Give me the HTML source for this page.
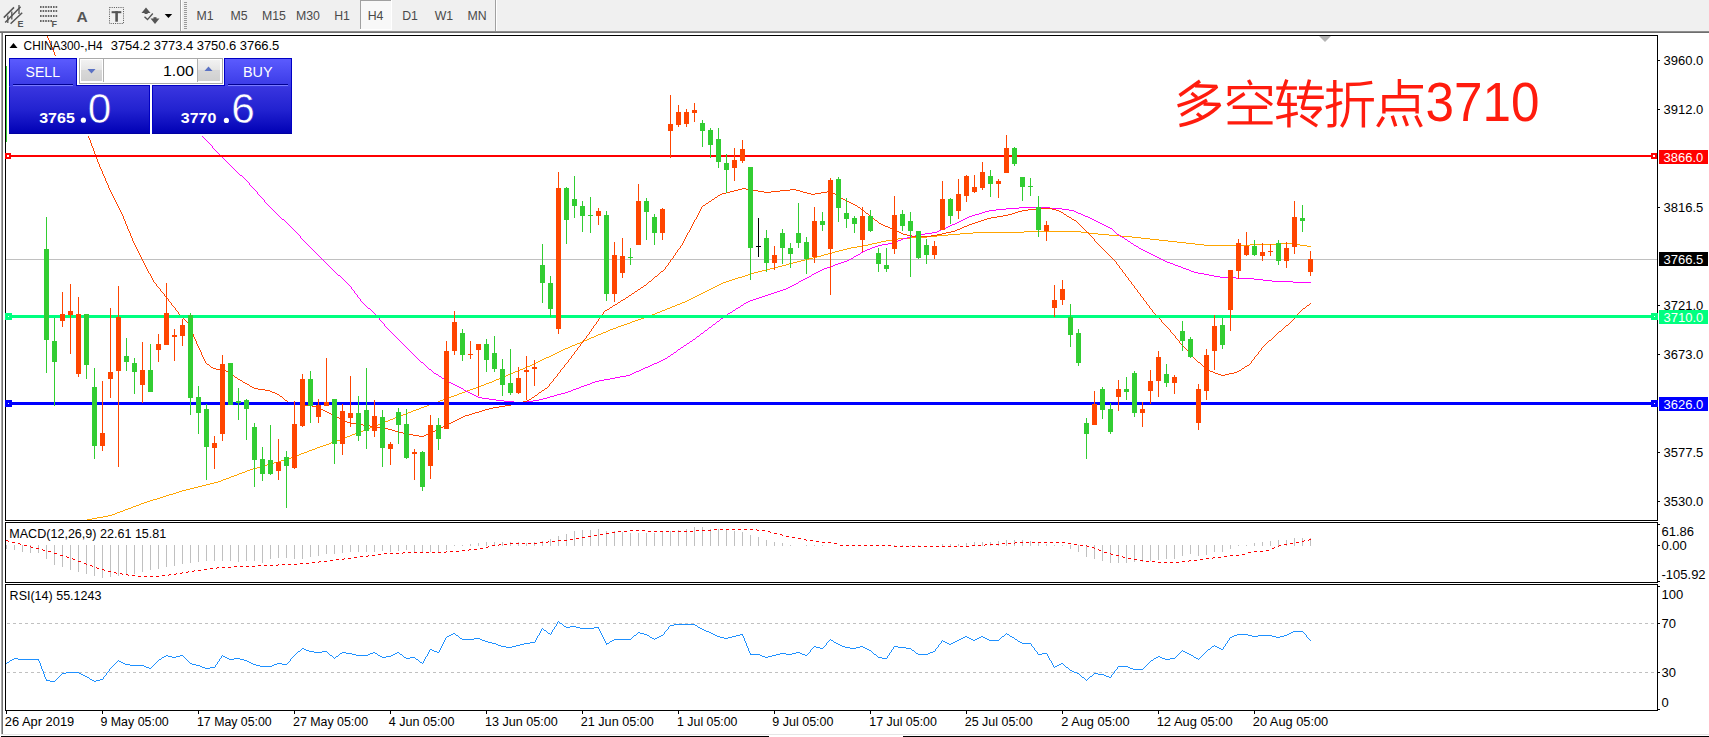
<!DOCTYPE html>
<html><head><meta charset="utf-8"><title>CHINA300 H4</title>
<style>
html,body{margin:0;padding:0;background:#fff;width:1709px;height:737px;overflow:hidden;}
svg{display:block;font-family:"Liberation Sans",sans-serif;}
</style></head><body>
<svg width="1709" height="737" viewBox="0 0 1709 737">
<defs>
<linearGradient id="gHdr" x1="0" y1="0" x2="0" y2="1"><stop offset="0" stop-color="#5c5cff"/><stop offset="1" stop-color="#3a3ae6"/></linearGradient>
<linearGradient id="gPrice" x1="0" y1="0" x2="0" y2="1"><stop offset="0" stop-color="#3a36e0"/><stop offset="0.5" stop-color="#2222d0"/><stop offset="1" stop-color="#0000b4"/></linearGradient>
<linearGradient id="gPriceU" gradientUnits="userSpaceOnUse" x1="0" y1="86" x2="0" y2="134"><stop offset="0" stop-color="#3a36e0"/><stop offset="0.5" stop-color="#2222d0"/><stop offset="1" stop-color="#0000b4"/></linearGradient>
<linearGradient id="gBtn" x1="0" y1="0" x2="0" y2="1"><stop offset="0" stop-color="#f2f2f2"/><stop offset="0.45" stop-color="#e6e6e6"/><stop offset="0.5" stop-color="#d8d8d8"/><stop offset="1" stop-color="#d0d0d0"/></linearGradient>
<linearGradient id="gTb" x1="0" y1="0" x2="0" y2="1"><stop offset="0" stop-color="#8a8a8a"/><stop offset="1" stop-color="#6a6a6a"/></linearGradient>
</defs>

<rect x="0" y="0" width="1709" height="737" fill="#ffffff"/>
<g shape-rendering="crispEdges">
<rect x="0" y="0" width="1709" height="31" fill="#f0f0f0"/>
<rect x="0" y="31" width="1709" height="1" fill="#8c8c8c"/>
<rect x="0" y="32" width="1709" height="1" fill="#6e6e6e"/>
<rect x="1" y="33" width="1" height="701" fill="#a8a8a8"/>
<rect x="2" y="33" width="1" height="701" fill="#747474"/>
<rect x="1" y="734" width="1709" height="1" fill="#e6e6e6"/>
<rect x="1" y="736" width="1709" height="1" fill="#000000"/>
<rect x="769" y="736" width="134" height="1" fill="#ffffff"/>
<rect x="180" y="0" width="1" height="31" fill="#a0a0a0"/><rect x="181" y="0" width="1" height="31" fill="#ffffff"/>
<rect x="184" y="2" width="3" height="1" fill="#9a9a9a"/>
<rect x="184" y="4" width="3" height="1" fill="#9a9a9a"/>
<rect x="184" y="6" width="3" height="1" fill="#9a9a9a"/>
<rect x="184" y="8" width="3" height="1" fill="#9a9a9a"/>
<rect x="184" y="10" width="3" height="1" fill="#9a9a9a"/>
<rect x="184" y="12" width="3" height="1" fill="#9a9a9a"/>
<rect x="184" y="14" width="3" height="1" fill="#9a9a9a"/>
<rect x="184" y="16" width="3" height="1" fill="#9a9a9a"/>
<rect x="184" y="18" width="3" height="1" fill="#9a9a9a"/>
<rect x="184" y="20" width="3" height="1" fill="#9a9a9a"/>
<rect x="184" y="22" width="3" height="1" fill="#9a9a9a"/>
<rect x="184" y="24" width="3" height="1" fill="#9a9a9a"/>
<rect x="184" y="26" width="3" height="1" fill="#9a9a9a"/>
<rect x="184" y="28" width="3" height="1" fill="#9a9a9a"/>
<rect x="495" y="0" width="1" height="31" fill="#a0a0a0"/><rect x="496" y="0" width="1" height="31" fill="#ffffff"/>
<rect x="360" y="0" width="32" height="30" fill="#f8f8f8"/>
<rect x="360" y="0" width="32" height="1" fill="#a0a0a0"/><rect x="360" y="0" width="1" height="29" fill="#a0a0a0"/>
<rect x="391" y="0" width="1" height="30" fill="#ffffff"/><rect x="360" y="29" width="32" height="1" fill="#ffffff"/>
</g>
<g fill="none" stroke="#555555" stroke-width="1.5">
<path d="M3.8 17.6 L14 7.4 M5.2 22.6 L20.6 6.8 M10.6 23.8 L22.2 12.8"/>
<path d="M7.8 15.5 L7.8 23 M11.8 11.5 L11.8 19.5 M19 5 L19 14" stroke-width="1.3"/>
</g>
<text x="17.6" y="26.8" font-size="9" font-weight="bold" fill="#555555">E</text>
<rect x="40.0" y="6" width="1.6" height="2" fill="#666"/>
<rect x="42.6" y="6" width="1.6" height="2" fill="#666"/>
<rect x="45.2" y="6" width="1.6" height="2" fill="#666"/>
<rect x="47.8" y="6" width="1.6" height="2" fill="#666"/>
<rect x="50.4" y="6" width="1.6" height="2" fill="#666"/>
<rect x="53.0" y="6" width="1.6" height="2" fill="#666"/>
<rect x="55.6" y="6" width="1.6" height="2" fill="#666"/>
<rect x="40.0" y="10" width="1.6" height="2" fill="#666"/>
<rect x="42.6" y="10" width="1.6" height="2" fill="#666"/>
<rect x="45.2" y="10" width="1.6" height="2" fill="#666"/>
<rect x="47.8" y="10" width="1.6" height="2" fill="#666"/>
<rect x="50.4" y="10" width="1.6" height="2" fill="#666"/>
<rect x="53.0" y="10" width="1.6" height="2" fill="#666"/>
<rect x="55.6" y="10" width="1.6" height="2" fill="#666"/>
<rect x="40.0" y="15" width="1.6" height="2" fill="#666"/>
<rect x="42.6" y="15" width="1.6" height="2" fill="#666"/>
<rect x="45.2" y="15" width="1.6" height="2" fill="#666"/>
<rect x="47.8" y="15" width="1.6" height="2" fill="#666"/>
<rect x="50.4" y="15" width="1.6" height="2" fill="#666"/>
<rect x="53.0" y="15" width="1.6" height="2" fill="#666"/>
<rect x="55.6" y="15" width="1.6" height="2" fill="#666"/>
<rect x="40.0" y="20" width="1.6" height="2" fill="#666"/>
<rect x="42.6" y="20" width="1.6" height="2" fill="#666"/>
<rect x="45.2" y="20" width="1.6" height="2" fill="#666"/>
<rect x="47.8" y="20" width="1.6" height="2" fill="#666"/>
<rect x="50.4" y="20" width="1.6" height="2" fill="#666"/>
<text x="51.5" y="26.8" font-size="9" font-weight="bold" fill="#555555">F</text>
<text x="76.6" y="21.8" font-size="15.5" font-weight="bold" fill="#555555">A</text>
<rect x="109.5" y="7.5" width="14" height="16" fill="none" stroke="#555" stroke-width="1" stroke-dasharray="1 1.2"/>
<rect x="111.6" y="11.2" width="9.7" height="2" fill="#555555"/><rect x="115.3" y="11.2" width="2.6" height="10.5" fill="#555555"/>
<path d="M141.5 13 L146 7.5 L150.5 13 Z" fill="#555555"/><rect x="144.6" y="11" width="3" height="3" fill="#555555"/>
<path d="M144.5 16.8 L147.5 19.6 L152.8 13.5" fill="none" stroke="#555555" stroke-width="1.4"/>
<path d="M150.5 18.5 L159.5 18.5 L155 24 Z" fill="#555555"/><rect x="153.5" y="17.2" width="3" height="2" fill="#555555"/>
<path d="M164.7 13.9 L172.2 13.9 L168.45 18 Z" fill="#000"/>
<text x="205" y="20.3" font-size="12.3" fill="#4a4a4a" text-anchor="middle">M1</text>
<text x="239" y="20.3" font-size="12.3" fill="#4a4a4a" text-anchor="middle">M5</text>
<text x="274" y="20.3" font-size="12.3" fill="#4a4a4a" text-anchor="middle">M15</text>
<text x="308" y="20.3" font-size="12.3" fill="#4a4a4a" text-anchor="middle">M30</text>
<text x="342" y="20.3" font-size="12.3" fill="#4a4a4a" text-anchor="middle">H1</text>
<text x="375.5" y="20.3" font-size="12.3" fill="#4a4a4a" text-anchor="middle">H4</text>
<text x="410" y="20.3" font-size="12.3" fill="#4a4a4a" text-anchor="middle">D1</text>
<text x="444" y="20.3" font-size="12.3" fill="#4a4a4a" text-anchor="middle">W1</text>
<text x="477" y="20.3" font-size="12.3" fill="#4a4a4a" text-anchor="middle">MN</text>
<g shape-rendering="crispEdges" fill="#000">
<rect x="5" y="35" width="1653" height="1"/>
<rect x="5" y="520" width="1653" height="1"/>
<rect x="5" y="35" width="1" height="486"/>
<rect x="1657" y="35" width="1" height="486"/>
<rect x="5" y="522" width="1653" height="1"/>
<rect x="5" y="582" width="1653" height="1"/>
<rect x="5" y="522" width="1" height="61"/>
<rect x="1657" y="522" width="1" height="61"/>
<rect x="5" y="584" width="1653" height="1"/>
<rect x="5" y="710" width="1653" height="1"/>
<rect x="5" y="584" width="1" height="127"/>
<rect x="1657" y="584" width="1" height="127"/>
</g>
<rect x="6" y="259" width="1651" height="1" fill="#c0c0c0" shape-rendering="crispEdges"/>
<svg x="6" y="36" width="1651" height="484" viewBox="6 36 1651 484" overflow="hidden">
<path d="M1024 231h57v1h-57zM973 232h51v1h-51zM1081 232h8v1h-8zM960 233h13v1h-13zM1089 233h9v1h-9zM948 234h12v1h-12zM1098 234h11v1h-11zM937 235h11v1h-11zM1109 235h12v1h-12zM927 236h10v1h-10zM1121 236h11v1h-11zM911 237h16v1h-16zM1132 237h9v1h-9zM898 238h13v1h-13zM1141 238h9v1h-9zM892 239h6v1h-6zM1150 239h9v1h-9zM886 240h6v1h-6zM1159 240h9v1h-9zM881 241h5v1h-5zM1168 241h9v1h-9zM877 242h4v1h-4zM1177 242h9v1h-9zM872 243h5v1h-5zM1186 243h9v1h-9zM1277 243h17v1h-17zM868 244h4v1h-4zM1195 244h9v1h-9zM1250 244h27v1h-27zM1294 244h6v1h-6zM863 245h5v1h-5zM1204 245h46v1h-46zM1300 245h7v1h-7zM857 246h6v1h-6zM1307 246h4v1h-4zM851 247h6v1h-6zM847 248h4v1h-4zM843 249h4v1h-4zM839 250h4v1h-4zM835 251h4v1h-4zM832 252h3v1h-3zM828 253h4v1h-4zM824 254h4v1h-4zM821 255h3v1h-3zM817 256h4v1h-4zM813 257h4v1h-4zM809 258h4v1h-4zM805 259h4v1h-4zM801 260h4v1h-4zM797 261h4v1h-4zM793 262h4v1h-4zM789 263h4v1h-4zM786 264h3v1h-3zM782 265h4v1h-4zM778 266h4v1h-4zM774 267h4v1h-4zM770 268h4v1h-4zM766 269h4v1h-4zM762 270h4v1h-4zM758 271h4v1h-4zM754 272h4v1h-4zM751 273h3v1h-3zM748 274h3v1h-3zM745 275h3v1h-3zM742 276h3v1h-3zM738 277h4v1h-4zM735 278h3v1h-3zM732 279h3v1h-3zM729 280h3v1h-3zM726 281h3v1h-3zM723 282h3v1h-3zM721 283h2v1h-2zM719 284h2v1h-2zM717 285h2v1h-2zM715 286h2v1h-2zM713 287h2v1h-2zM711 288h2v1h-2zM709 289h2v1h-2zM707 290h2v1h-2zM705 291h2v1h-2zM703 292h2v1h-2zM701 293h2v1h-2zM699 294h2v1h-2zM697 295h2v1h-2zM695 296h2v1h-2zM693 297h2v1h-2zM691 298h2v1h-2zM689 299h2v1h-2zM687 300h2v1h-2zM685 301h2v1h-2zM682 302h3v1h-3zM680 303h2v1h-2zM677 304h3v1h-3zM675 305h2v1h-2zM672 306h3v1h-3zM670 307h2v1h-2zM667 308h3v1h-3zM665 309h2v1h-2zM662 310h3v1h-3zM660 311h2v1h-2zM657 312h3v1h-3zM655 313h2v1h-2zM652 314h3v1h-3zM649 315h3v1h-3zM646 316h3v1h-3zM644 317h2v1h-2zM641 318h3v1h-3zM638 319h3v1h-3zM635 320h3v1h-3zM632 321h3v1h-3zM630 322h2v1h-2zM627 323h3v1h-3zM624 324h3v1h-3zM621 325h3v1h-3zM618 326h3v1h-3zM616 327h2v1h-2zM613 328h3v1h-3zM610 329h3v1h-3zM608 330h2v1h-2zM606 331h2v1h-2zM603 332h3v1h-3zM601 333h2v1h-2zM598 334h3v1h-3zM596 335h2v1h-2zM594 336h2v1h-2zM591 337h3v1h-3zM589 338h2v1h-2zM587 339h2v1h-2zM584 340h3v1h-3zM582 341h2v1h-2zM580 342h2v1h-2zM577 343h3v1h-3zM575 344h2v1h-2zM572 345h3v1h-3zM570 346h2v1h-2zM568 347h2v1h-2zM565 348h3v1h-3zM563 349h2v1h-2zM561 350h2v1h-2zM559 351h2v1h-2zM557 352h2v1h-2zM555 353h2v1h-2zM553 354h2v1h-2zM551 355h2v1h-2zM549 356h2v1h-2zM546 357h3v1h-3zM544 358h2v1h-2zM542 359h2v1h-2zM540 360h2v1h-2zM538 361h2v1h-2zM536 362h2v1h-2zM534 363h2v1h-2zM532 364h2v1h-2zM530 365h2v1h-2zM527 366h3v1h-3zM525 367h2v1h-2zM523 368h2v1h-2zM520 369h3v1h-3zM518 370h2v1h-2zM515 371h3v1h-3zM513 372h2v1h-2zM511 373h2v1h-2zM508 374h3v1h-3zM506 375h2v1h-2zM504 376h2v1h-2zM501 377h3v1h-3zM499 378h2v1h-2zM496 379h3v1h-3zM494 380h2v1h-2zM492 381h2v1h-2zM489 382h3v1h-3zM486 383h3v1h-3zM484 384h2v1h-2zM481 385h3v1h-3zM478 386h3v1h-3zM476 387h2v1h-2zM473 388h3v1h-3zM470 389h3v1h-3zM467 390h3v1h-3zM465 391h2v1h-2zM462 392h3v1h-3zM459 393h3v1h-3zM457 394h2v1h-2zM454 395h3v1h-3zM451 396h3v1h-3zM448 397h3v1h-3zM446 398h2v1h-2zM443 399h3v1h-3zM440 400h3v1h-3zM438 401h2v1h-2zM435 402h3v1h-3zM432 403h3v1h-3zM429 404h3v1h-3zM427 405h2v1h-2zM424 406h3v1h-3zM421 407h3v1h-3zM419 408h2v1h-2zM416 409h3v1h-3zM413 410h3v1h-3zM411 411h2v1h-2zM408 412h3v1h-3zM406 413h2v1h-2zM403 414h3v1h-3zM401 415h2v1h-2zM398 416h3v1h-3zM395 417h3v1h-3zM393 418h2v1h-2zM390 419h3v1h-3zM388 420h2v1h-2zM385 421h3v1h-3zM383 422h2v1h-2zM380 423h3v1h-3zM378 424h2v1h-2zM375 425h3v1h-3zM373 426h2v1h-2zM370 427h3v1h-3zM368 428h2v1h-2zM365 429h3v1h-3zM363 430h2v1h-2zM360 431h3v1h-3zM357 432h3v1h-3zM355 433h2v1h-2zM352 434h3v1h-3zM350 435h2v1h-2zM347 436h3v1h-3zM345 437h2v1h-2zM342 438h3v1h-3zM340 439h2v1h-2zM337 440h3v1h-3zM334 441h3v1h-3zM331 442h3v1h-3zM329 443h2v1h-2zM326 444h3v1h-3zM323 445h3v1h-3zM320 446h3v1h-3zM317 447h3v1h-3zM315 448h2v1h-2zM312 449h3v1h-3zM309 450h3v1h-3zM307 451h2v1h-2zM304 452h3v1h-3zM301 453h3v1h-3zM299 454h2v1h-2zM296 455h3v1h-3zM293 456h3v1h-3zM291 457h2v1h-2zM288 458h3v1h-3zM285 459h3v1h-3zM281 460h4v1h-4zM278 461h3v1h-3zM274 462h4v1h-4zM271 463h3v1h-3zM267 464h4v1h-4zM264 465h3v1h-3zM260 466h4v1h-4zM257 467h3v1h-3zM253 468h4v1h-4zM250 469h3v1h-3zM247 470h3v1h-3zM245 471h2v1h-2zM242 472h3v1h-3zM239 473h3v1h-3zM237 474h2v1h-2zM234 475h3v1h-3zM231 476h3v1h-3zM229 477h2v1h-2zM226 478h3v1h-3zM223 479h3v1h-3zM221 480h2v1h-2zM218 481h3v1h-3zM214 482h4v1h-4zM210 483h4v1h-4zM206 484h4v1h-4zM202 485h4v1h-4zM198 486h4v1h-4zM194 487h4v1h-4zM190 488h4v1h-4zM186 489h4v1h-4zM182 490h4v1h-4zM179 491h3v1h-3zM176 492h3v1h-3zM173 493h3v1h-3zM169 494h4v1h-4zM166 495h3v1h-3zM163 496h3v1h-3zM160 497h3v1h-3zM157 498h3v1h-3zM153 499h4v1h-4zM150 500h3v1h-3zM147 501h3v1h-3zM144 502h3v1h-3zM141 503h3v1h-3zM139 504h2v1h-2zM136 505h3v1h-3zM133 506h3v1h-3zM131 507h2v1h-2zM128 508h3v1h-3zM125 509h3v1h-3zM123 510h2v1h-2zM120 511h3v1h-3zM117 512h3v1h-3zM115 513h2v1h-2zM112 514h3v1h-3zM108 515h4v1h-4zM103 516h5v1h-5zM97 517h6v1h-6zM92 518h5v1h-5zM87 519h5v1h-5zM84 520h3v1h-3z" fill="#ffa500" shape-rendering="crispEdges"/>
<path d="M182 117h1v1h-1zM183 118h1v1h-1zM184 119h1v1h-1zM185 120h1v1h-1zM186 121h1v1h-1zM187 122h1v1h-1zM188 123h1v1h-1zM189 124h1v1h-1zM190 125h1v1h-1zM191 126h1v1h-1zM192 127h2v1h-2zM194 128h1v1h-1zM195 129h1v1h-1zM196 130h1v1h-1zM197 131h1v1h-1zM198 132h1v1h-1zM199 133h1v1h-1zM200 134h1v1h-1zM201 135h1v1h-1zM202 136h1v1h-1zM203 137h1v1h-1zM204 138h1v1h-1zM205 139h1v1h-1zM206 140h1v1h-1zM207 141h1v1h-1zM208 142h1v1h-1zM209 143h1v1h-1zM210 144h1v1h-1zM211 145h1v1h-1zM212 146h1v1h-1zM212 147h1v1h-1zM213 148h1v1h-1zM214 149h1v1h-1zM215 150h1v1h-1zM216 151h1v1h-1zM217 152h1v1h-1zM218 153h1v1h-1zM219 154h1v1h-1zM220 155h1v1h-1zM221 156h1v1h-1zM222 157h1v1h-1zM223 158h1v1h-1zM224 159h1v1h-1zM225 160h1v1h-1zM226 161h1v1h-1zM227 162h1v1h-1zM228 163h1v1h-1zM229 164h1v1h-1zM230 165h1v1h-1zM231 166h1v1h-1zM232 167h1v1h-1zM233 168h1v1h-1zM234 169h1v1h-1zM235 170h1v1h-1zM236 171h1v1h-1zM237 172h1v1h-1zM238 173h1v1h-1zM239 174h1v1h-1zM240 175h2v1h-2zM242 176h1v1h-1zM243 177h1v1h-1zM244 178h1v1h-1zM245 179h1v1h-1zM246 180h1v1h-1zM247 181h1v1h-1zM248 182h1v1h-1zM249 183h1v1h-1zM249 184h1v1h-1zM250 185h1v1h-1zM251 186h1v1h-1zM252 187h1v1h-1zM253 188h1v1h-1zM254 189h1v1h-1zM255 190h1v1h-1zM256 191h1v1h-1zM257 192h1v1h-1zM257 193h1v1h-1zM258 194h1v1h-1zM259 195h1v1h-1zM260 196h1v1h-1zM261 197h1v1h-1zM262 198h1v1h-1zM263 199h1v1h-1zM264 200h1v1h-1zM264 201h1v1h-1zM265 202h1v1h-1zM266 203h1v1h-1zM267 204h1v1h-1zM268 205h1v1h-1zM269 206h1v1h-1zM270 207h1v1h-1zM1019 207h31v1h-31zM271 208h1v1h-1zM1006 208h13v1h-13zM1050 208h12v1h-12zM272 209h1v1h-1zM996 209h10v1h-10zM1062 209h7v1h-7zM273 210h1v1h-1zM989 210h7v1h-7zM1069 210h5v1h-5zM274 211h1v1h-1zM985 211h4v1h-4zM1074 211h2v1h-2zM275 212h1v1h-1zM982 212h3v1h-3zM1076 212h2v1h-2zM276 213h1v1h-1zM979 213h3v1h-3zM1078 213h3v1h-3zM277 214h1v1h-1zM975 214h4v1h-4zM1081 214h2v1h-2zM278 215h1v1h-1zM972 215h3v1h-3zM1083 215h2v1h-2zM279 216h1v1h-1zM969 216h3v1h-3zM1085 216h3v1h-3zM280 217h1v1h-1zM967 217h2v1h-2zM1088 217h2v1h-2zM281 218h1v1h-1zM965 218h2v1h-2zM1090 218h2v1h-2zM282 219h2v1h-2zM963 219h2v1h-2zM1092 219h2v1h-2zM284 220h1v1h-1zM961 220h2v1h-2zM1094 220h2v1h-2zM285 221h1v1h-1zM959 221h2v1h-2zM1096 221h2v1h-2zM286 222h1v1h-1zM957 222h2v1h-2zM1098 222h2v1h-2zM287 223h1v1h-1zM955 223h2v1h-2zM1100 223h2v1h-2zM288 224h1v1h-1zM952 224h3v1h-3zM1102 224h2v1h-2zM289 225h1v1h-1zM950 225h2v1h-2zM1104 225h2v1h-2zM290 226h1v1h-1zM948 226h2v1h-2zM1106 226h2v1h-2zM291 227h1v1h-1zM946 227h2v1h-2zM1108 227h2v1h-2zM292 228h1v1h-1zM943 228h3v1h-3zM1110 228h2v1h-2zM293 229h1v1h-1zM941 229h2v1h-2zM1112 229h1v1h-1zM294 230h1v1h-1zM939 230h2v1h-2zM1113 230h1v1h-1zM295 231h1v1h-1zM937 231h2v1h-2zM1114 231h1v1h-1zM296 232h1v1h-1zM932 232h5v1h-5zM1115 232h1v1h-1zM297 233h1v1h-1zM925 233h7v1h-7zM1116 233h1v1h-1zM298 234h1v1h-1zM919 234h6v1h-6zM1117 234h2v1h-2zM299 235h1v1h-1zM915 235h4v1h-4zM1119 235h1v1h-1zM300 236h1v1h-1zM911 236h4v1h-4zM1120 236h2v1h-2zM300 237h1v1h-1zM907 237h4v1h-4zM1122 237h2v1h-2zM301 238h1v1h-1zM903 238h4v1h-4zM1124 238h1v1h-1zM302 239h1v1h-1zM901 239h2v1h-2zM1125 239h2v1h-2zM303 240h1v1h-1zM898 240h3v1h-3zM1127 240h1v1h-1zM304 241h1v1h-1zM895 241h3v1h-3zM1128 241h2v1h-2zM305 242h1v1h-1zM893 242h2v1h-2zM1130 242h1v1h-1zM306 243h1v1h-1zM888 243h5v1h-5zM1131 243h2v1h-2zM307 244h1v1h-1zM882 244h6v1h-6zM1133 244h1v1h-1zM308 245h1v1h-1zM878 245h4v1h-4zM1134 245h2v1h-2zM309 246h1v1h-1zM875 246h3v1h-3zM1136 246h2v1h-2zM310 247h1v1h-1zM872 247h3v1h-3zM1138 247h1v1h-1zM311 248h1v1h-1zM870 248h2v1h-2zM1139 248h2v1h-2zM312 249h1v1h-1zM867 249h3v1h-3zM1141 249h2v1h-2zM313 250h1v1h-1zM865 250h2v1h-2zM1143 250h2v1h-2zM314 251h1v1h-1zM863 251h2v1h-2zM1145 251h2v1h-2zM315 252h1v1h-1zM861 252h2v1h-2zM1147 252h2v1h-2zM316 253h1v1h-1zM860 253h1v1h-1zM1149 253h2v1h-2zM317 254h1v1h-1zM858 254h2v1h-2zM1151 254h2v1h-2zM318 255h1v1h-1zM856 255h2v1h-2zM1153 255h2v1h-2zM319 256h1v1h-1zM854 256h2v1h-2zM1155 256h2v1h-2zM320 257h1v1h-1zM853 257h1v1h-1zM1157 257h2v1h-2zM321 258h1v1h-1zM851 258h2v1h-2zM1159 258h2v1h-2zM322 259h1v1h-1zM849 259h2v1h-2zM1161 259h2v1h-2zM323 260h1v1h-1zM847 260h2v1h-2zM1163 260h2v1h-2zM324 261h1v1h-1zM844 261h3v1h-3zM1165 261h2v1h-2zM325 262h1v1h-1zM841 262h3v1h-3zM1167 262h3v1h-3zM326 263h1v1h-1zM838 263h3v1h-3zM1170 263h3v1h-3zM327 264h1v1h-1zM835 264h3v1h-3zM1173 264h2v1h-2zM328 265h1v1h-1zM833 265h2v1h-2zM1175 265h3v1h-3zM329 266h1v1h-1zM830 266h3v1h-3zM1178 266h3v1h-3zM330 267h1v1h-1zM827 267h3v1h-3zM1181 267h2v1h-2zM331 268h1v1h-1zM824 268h3v1h-3zM1183 268h3v1h-3zM332 269h1v1h-1zM822 269h2v1h-2zM1186 269h3v1h-3zM333 270h1v1h-1zM820 270h2v1h-2zM1189 270h2v1h-2zM334 271h1v1h-1zM818 271h2v1h-2zM1191 271h3v1h-3zM335 272h1v1h-1zM816 272h2v1h-2zM1194 272h4v1h-4zM336 273h1v1h-1zM814 273h2v1h-2zM1198 273h6v1h-6zM337 274h1v1h-1zM812 274h2v1h-2zM1204 274h5v1h-5zM338 275h2v1h-2zM811 275h1v1h-1zM1209 275h5v1h-5zM340 276h1v1h-1zM809 276h2v1h-2zM1214 276h6v1h-6zM341 277h1v1h-1zM807 277h2v1h-2zM1220 277h16v1h-16zM342 278h1v1h-1zM805 278h2v1h-2zM1236 278h18v1h-18zM343 279h1v1h-1zM803 279h2v1h-2zM1254 279h9v1h-9zM344 280h1v1h-1zM801 280h2v1h-2zM1263 280h9v1h-9zM345 281h1v1h-1zM799 281h2v1h-2zM1272 281h21v1h-21zM346 282h1v1h-1zM798 282h1v1h-1zM1293 282h18v1h-18zM347 283h1v1h-1zM796 283h2v1h-2zM348 284h1v1h-1zM794 284h2v1h-2zM349 285h1v1h-1zM792 285h2v1h-2zM350 286h1v1h-1zM790 286h2v1h-2zM351 287h1v1h-1zM788 287h2v1h-2zM351 288h1v1h-1zM786 288h2v1h-2zM352 289h1v1h-1zM783 289h3v1h-3zM353 290h1v1h-1zM780 290h3v1h-3zM354 291h1v1h-1zM777 291h3v1h-3zM354 292h1v1h-1zM774 292h3v1h-3zM355 293h1v1h-1zM771 293h3v1h-3zM356 294h1v1h-1zM768 294h3v1h-3zM357 295h1v1h-1zM765 295h3v1h-3zM357 296h1v1h-1zM762 296h3v1h-3zM358 297h1v1h-1zM759 297h3v1h-3zM359 298h1v1h-1zM756 298h3v1h-3zM360 299h1v1h-1zM753 299h3v1h-3zM360 300h1v1h-1zM750 300h3v1h-3zM361 301h1v1h-1zM748 301h2v1h-2zM362 302h1v1h-1zM746 302h2v1h-2zM363 303h1v1h-1zM744 303h2v1h-2zM364 304h1v1h-1zM743 304h1v1h-1zM365 305h1v1h-1zM741 305h2v1h-2zM366 306h1v1h-1zM740 306h1v1h-1zM367 307h1v1h-1zM738 307h2v1h-2zM368 308h2v1h-2zM736 308h2v1h-2zM370 309h1v1h-1zM735 309h1v1h-1zM371 310h1v1h-1zM733 310h2v1h-2zM372 311h1v1h-1zM732 311h1v1h-1zM373 312h1v1h-1zM730 312h2v1h-2zM374 313h1v1h-1zM728 313h2v1h-2zM375 314h1v1h-1zM727 314h1v1h-1zM376 315h1v1h-1zM725 315h2v1h-2zM377 316h1v1h-1zM724 316h1v1h-1zM378 317h1v1h-1zM723 317h1v1h-1zM379 318h1v1h-1zM721 318h2v1h-2zM379 319h1v1h-1zM720 319h1v1h-1zM380 320h1v1h-1zM719 320h1v1h-1zM381 321h1v1h-1zM717 321h2v1h-2zM382 322h1v1h-1zM716 322h1v1h-1zM383 323h1v1h-1zM715 323h1v1h-1zM384 324h1v1h-1zM713 324h2v1h-2zM384 325h1v1h-1zM712 325h1v1h-1zM385 326h1v1h-1zM711 326h1v1h-1zM386 327h1v1h-1zM709 327h2v1h-2zM387 328h1v1h-1zM708 328h1v1h-1zM388 329h1v1h-1zM707 329h1v1h-1zM389 330h1v1h-1zM705 330h2v1h-2zM390 331h1v1h-1zM704 331h1v1h-1zM391 332h1v1h-1zM703 332h1v1h-1zM392 333h1v1h-1zM701 333h2v1h-2zM393 334h1v1h-1zM700 334h1v1h-1zM394 335h1v1h-1zM699 335h1v1h-1zM395 336h1v1h-1zM697 336h2v1h-2zM396 337h1v1h-1zM696 337h1v1h-1zM397 338h1v1h-1zM695 338h1v1h-1zM398 339h1v1h-1zM693 339h2v1h-2zM399 340h1v1h-1zM692 340h1v1h-1zM400 341h1v1h-1zM690 341h2v1h-2zM401 342h1v1h-1zM689 342h1v1h-1zM402 343h1v1h-1zM687 343h2v1h-2zM403 344h1v1h-1zM686 344h1v1h-1zM404 345h1v1h-1zM684 345h2v1h-2zM405 346h1v1h-1zM683 346h1v1h-1zM406 347h1v1h-1zM681 347h2v1h-2zM407 348h1v1h-1zM680 348h1v1h-1zM408 349h1v1h-1zM678 349h2v1h-2zM409 350h1v1h-1zM677 350h1v1h-1zM410 351h1v1h-1zM676 351h1v1h-1zM411 352h1v1h-1zM674 352h2v1h-2zM412 353h1v1h-1zM673 353h1v1h-1zM413 354h1v1h-1zM671 354h2v1h-2zM414 355h1v1h-1zM670 355h1v1h-1zM415 356h1v1h-1zM668 356h2v1h-2zM416 357h1v1h-1zM667 357h1v1h-1zM417 358h1v1h-1zM665 358h2v1h-2zM418 359h1v1h-1zM663 359h2v1h-2zM419 360h1v1h-1zM661 360h2v1h-2zM420 361h1v1h-1zM659 361h2v1h-2zM421 362h2v1h-2zM657 362h2v1h-2zM423 363h1v1h-1zM654 363h3v1h-3zM424 364h1v1h-1zM652 364h2v1h-2zM425 365h1v1h-1zM650 365h2v1h-2zM426 366h1v1h-1zM648 366h2v1h-2zM427 367h1v1h-1zM645 367h3v1h-3zM428 368h1v1h-1zM643 368h2v1h-2zM429 369h2v1h-2zM641 369h2v1h-2zM431 370h1v1h-1zM639 370h2v1h-2zM432 371h1v1h-1zM636 371h3v1h-3zM433 372h1v1h-1zM634 372h2v1h-2zM434 373h2v1h-2zM632 373h2v1h-2zM436 374h2v1h-2zM630 374h2v1h-2zM438 375h1v1h-1zM626 375h4v1h-4zM439 376h2v1h-2zM620 376h6v1h-6zM441 377h1v1h-1zM615 377h5v1h-5zM442 378h2v1h-2zM610 378h5v1h-5zM444 379h2v1h-2zM604 379h6v1h-6zM446 380h1v1h-1zM599 380h5v1h-5zM447 381h2v1h-2zM595 381h4v1h-4zM449 382h2v1h-2zM592 382h3v1h-3zM451 383h2v1h-2zM590 383h2v1h-2zM453 384h2v1h-2zM587 384h3v1h-3zM455 385h2v1h-2zM584 385h3v1h-3zM457 386h2v1h-2zM581 386h3v1h-3zM459 387h2v1h-2zM579 387h2v1h-2zM461 388h2v1h-2zM576 388h3v1h-3zM463 389h1v1h-1zM573 389h3v1h-3zM464 390h2v1h-2zM571 390h2v1h-2zM466 391h2v1h-2zM568 391h3v1h-3zM468 392h2v1h-2zM565 392h3v1h-3zM470 393h2v1h-2zM561 393h4v1h-4zM472 394h2v1h-2zM557 394h4v1h-4zM474 395h2v1h-2zM554 395h3v1h-3zM476 396h2v1h-2zM550 396h4v1h-4zM478 397h4v1h-4zM547 397h3v1h-3zM482 398h7v1h-7zM543 398h4v1h-4zM489 399h7v1h-7zM539 399h4v1h-4zM496 400h8v1h-8zM533 400h6v1h-6zM504 401h10v1h-10zM523 401h10v1h-10zM514 402h9v1h-9z" fill="#ff00ff" shape-rendering="crispEdges"/>
<path d="M47 36h1v1h-1zM47 37h1v1h-1zM48 38h1v1h-1zM48 39h1v1h-1zM49 40h1v1h-1zM49 41h1v1h-1zM49 42h1v1h-1zM50 43h1v1h-1zM50 44h1v1h-1zM51 45h1v1h-1zM51 46h1v1h-1zM52 47h1v1h-1zM52 48h1v1h-1zM52 49h1v1h-1zM53 50h1v1h-1zM53 51h1v1h-1zM54 52h1v1h-1zM54 53h1v1h-1zM54 54h1v1h-1zM55 55h1v1h-1zM55 56h1v1h-1zM56 57h1v1h-1zM56 58h1v1h-1zM56 59h1v1h-1zM57 60h1v1h-1zM57 61h1v1h-1zM58 62h1v1h-1zM58 63h1v1h-1zM58 64h1v1h-1zM59 65h1v1h-1zM59 66h1v1h-1zM60 67h1v1h-1zM60 68h1v1h-1zM61 69h1v1h-1zM61 70h1v1h-1zM61 71h1v1h-1zM62 72h1v1h-1zM62 73h1v1h-1zM63 74h1v1h-1zM63 75h1v1h-1zM63 76h1v1h-1zM64 77h1v1h-1zM64 78h1v1h-1zM65 79h1v1h-1zM65 80h1v1h-1zM65 81h1v1h-1zM66 82h1v1h-1zM66 83h1v1h-1zM67 84h1v1h-1zM67 85h1v1h-1zM68 86h1v1h-1zM68 87h1v1h-1zM68 88h1v1h-1zM69 89h1v1h-1zM69 90h1v1h-1zM70 91h1v1h-1zM70 92h1v1h-1zM70 93h1v1h-1zM71 94h1v1h-1zM71 95h1v1h-1zM72 96h1v1h-1zM72 97h1v1h-1zM72 98h1v1h-1zM73 99h1v1h-1zM73 100h1v1h-1zM74 101h1v1h-1zM74 102h1v1h-1zM74 103h1v1h-1zM75 104h1v1h-1zM75 105h1v1h-1zM76 106h1v1h-1zM76 107h1v1h-1zM77 108h1v1h-1zM77 109h1v1h-1zM77 110h1v1h-1zM78 111h1v1h-1zM78 112h1v1h-1zM79 113h1v1h-1zM79 114h1v1h-1zM79 115h1v1h-1zM80 116h1v1h-1zM80 117h1v1h-1zM81 118h1v1h-1zM81 119h1v1h-1zM81 120h1v1h-1zM82 121h1v1h-1zM82 122h1v1h-1zM83 123h1v1h-1zM83 124h1v1h-1zM83 125h1v1h-1zM84 126h1v1h-1zM84 127h1v1h-1zM85 128h1v1h-1zM85 129h1v1h-1zM86 130h1v1h-1zM86 131h1v1h-1zM86 132h1v1h-1zM87 133h1v1h-1zM87 134h1v1h-1zM88 135h1v1h-1zM88 136h1v1h-1zM88 137h1v1h-1zM89 138h1v1h-1zM89 139h1v1h-1zM90 140h1v1h-1zM90 141h1v1h-1zM90 142h1v1h-1zM91 143h1v1h-1zM91 144h1v1h-1zM91 145h1v1h-1zM92 146h1v1h-1zM92 147h1v1h-1zM93 148h1v1h-1zM93 149h1v1h-1zM93 150h1v1h-1zM94 151h1v1h-1zM94 152h1v1h-1zM94 153h1v1h-1zM95 154h1v1h-1zM95 155h1v1h-1zM96 156h1v1h-1zM96 157h1v1h-1zM96 158h1v1h-1zM97 159h1v1h-1zM97 160h1v1h-1zM97 161h1v1h-1zM98 162h1v1h-1zM98 163h1v1h-1zM99 164h1v1h-1zM99 165h1v1h-1zM99 166h1v1h-1zM100 167h1v1h-1zM100 168h1v1h-1zM101 169h1v1h-1zM101 170h1v1h-1zM102 171h1v1h-1zM102 172h1v1h-1zM102 173h1v1h-1zM103 174h1v1h-1zM103 175h1v1h-1zM104 176h1v1h-1zM104 177h1v1h-1zM105 178h1v1h-1zM105 179h1v1h-1zM105 180h1v1h-1zM106 181h1v1h-1zM106 182h1v1h-1zM107 183h1v1h-1zM107 184h1v1h-1zM108 185h1v1h-1zM108 186h1v1h-1zM108 187h1v1h-1zM109 188h1v1h-1zM742 188h4v1h-4zM109 189h1v1h-1zM738 189h4v1h-4zM746 189h6v1h-6zM790 189h6v1h-6zM110 190h1v1h-1zM734 190h4v1h-4zM752 190h6v1h-6zM780 190h10v1h-10zM796 190h4v1h-4zM110 191h1v1h-1zM730 191h4v1h-4zM758 191h6v1h-6zM771 191h9v1h-9zM800 191h3v1h-3zM827 191h4v1h-4zM111 192h1v1h-1zM726 192h4v1h-4zM764 192h7v1h-7zM803 192h4v1h-4zM821 192h6v1h-6zM831 192h2v1h-2zM111 193h1v1h-1zM722 193h4v1h-4zM807 193h4v1h-4zM815 193h6v1h-6zM833 193h2v1h-2zM112 194h1v1h-1zM720 194h2v1h-2zM811 194h4v1h-4zM835 194h1v1h-1zM112 195h1v1h-1zM718 195h2v1h-2zM836 195h2v1h-2zM113 196h1v1h-1zM717 196h1v1h-1zM838 196h2v1h-2zM113 197h1v1h-1zM715 197h2v1h-2zM840 197h1v1h-1zM114 198h1v1h-1zM714 198h1v1h-1zM841 198h2v1h-2zM114 199h1v1h-1zM712 199h2v1h-2zM843 199h2v1h-2zM115 200h1v1h-1zM711 200h1v1h-1zM845 200h2v1h-2zM115 201h1v1h-1zM709 201h2v1h-2zM847 201h2v1h-2zM116 202h1v1h-1zM708 202h1v1h-1zM849 202h2v1h-2zM116 203h1v1h-1zM706 203h2v1h-2zM851 203h2v1h-2zM117 204h1v1h-1zM705 204h1v1h-1zM853 204h2v1h-2zM117 205h1v1h-1zM703 205h2v1h-2zM855 205h2v1h-2zM118 206h1v1h-1zM702 206h1v1h-1zM857 206h1v1h-1zM118 207h1v1h-1zM701 207h1v1h-1zM858 207h2v1h-2zM119 208h1v1h-1zM701 208h1v1h-1zM860 208h1v1h-1zM1037 208h15v1h-15zM119 209h1v1h-1zM700 209h1v1h-1zM861 209h1v1h-1zM1028 209h9v1h-9zM1052 209h4v1h-4zM120 210h1v1h-1zM700 210h1v1h-1zM862 210h2v1h-2zM1022 210h6v1h-6zM1056 210h3v1h-3zM120 211h1v1h-1zM699 211h1v1h-1zM864 211h1v1h-1zM1018 211h4v1h-4zM1059 211h2v1h-2zM121 212h1v1h-1zM699 212h1v1h-1zM865 212h1v1h-1zM1015 212h3v1h-3zM1061 212h2v1h-2zM121 213h1v1h-1zM698 213h1v1h-1zM866 213h2v1h-2zM1012 213h3v1h-3zM1063 213h1v1h-1zM122 214h1v1h-1zM698 214h1v1h-1zM868 214h1v1h-1zM1008 214h4v1h-4zM1064 214h2v1h-2zM122 215h1v1h-1zM697 215h1v1h-1zM869 215h1v1h-1zM1003 215h5v1h-5zM1066 215h1v1h-1zM123 216h1v1h-1zM697 216h1v1h-1zM870 216h1v1h-1zM997 216h6v1h-6zM1067 216h2v1h-2zM123 217h1v1h-1zM696 217h1v1h-1zM871 217h2v1h-2zM991 217h6v1h-6zM1069 217h2v1h-2zM123 218h1v1h-1zM696 218h1v1h-1zM873 218h1v1h-1zM987 218h4v1h-4zM1071 218h1v1h-1zM124 219h1v1h-1zM695 219h1v1h-1zM874 219h1v1h-1zM984 219h3v1h-3zM1072 219h2v1h-2zM124 220h1v1h-1zM694 220h1v1h-1zM875 220h2v1h-2zM981 220h3v1h-3zM1074 220h2v1h-2zM125 221h1v1h-1zM694 221h1v1h-1zM877 221h1v1h-1zM978 221h3v1h-3zM1076 221h1v1h-1zM125 222h1v1h-1zM693 222h1v1h-1zM878 222h1v1h-1zM975 222h3v1h-3zM1077 222h1v1h-1zM125 223h1v1h-1zM693 223h1v1h-1zM879 223h2v1h-2zM972 223h3v1h-3zM1078 223h1v1h-1zM126 224h1v1h-1zM692 224h1v1h-1zM881 224h2v1h-2zM969 224h3v1h-3zM1079 224h1v1h-1zM126 225h1v1h-1zM692 225h1v1h-1zM883 225h2v1h-2zM967 225h2v1h-2zM1080 225h1v1h-1zM127 226h1v1h-1zM691 226h1v1h-1zM885 226h3v1h-3zM964 226h3v1h-3zM1081 226h1v1h-1zM127 227h1v1h-1zM691 227h1v1h-1zM888 227h2v1h-2zM962 227h2v1h-2zM1082 227h1v1h-1zM127 228h1v1h-1zM690 228h1v1h-1zM890 228h3v1h-3zM960 228h2v1h-2zM1083 228h1v1h-1zM128 229h1v1h-1zM690 229h1v1h-1zM893 229h2v1h-2zM957 229h3v1h-3zM1084 229h1v1h-1zM128 230h1v1h-1zM689 230h1v1h-1zM895 230h2v1h-2zM955 230h2v1h-2zM1085 230h1v1h-1zM129 231h1v1h-1zM689 231h1v1h-1zM897 231h2v1h-2zM951 231h4v1h-4zM1086 231h1v1h-1zM129 232h1v1h-1zM688 232h1v1h-1zM899 232h2v1h-2zM946 232h5v1h-5zM1087 232h1v1h-1zM130 233h1v1h-1zM687 233h1v1h-1zM901 233h2v1h-2zM942 233h4v1h-4zM1088 233h1v1h-1zM130 234h1v1h-1zM687 234h1v1h-1zM903 234h4v1h-4zM937 234h5v1h-5zM1089 234h1v1h-1zM130 235h1v1h-1zM686 235h1v1h-1zM907 235h5v1h-5zM931 235h6v1h-6zM1090 235h1v1h-1zM131 236h1v1h-1zM686 236h1v1h-1zM912 236h19v1h-19zM1091 236h1v1h-1zM131 237h1v1h-1zM685 237h1v1h-1zM1092 237h1v1h-1zM132 238h1v1h-1zM685 238h1v1h-1zM1093 238h1v1h-1zM132 239h1v1h-1zM684 239h1v1h-1zM1094 239h1v1h-1zM132 240h1v1h-1zM684 240h1v1h-1zM1094 240h1v1h-1zM133 241h1v1h-1zM683 241h1v1h-1zM1095 241h1v1h-1zM133 242h1v1h-1zM683 242h1v1h-1zM1096 242h1v1h-1zM134 243h1v1h-1zM682 243h1v1h-1zM1097 243h1v1h-1zM134 244h1v1h-1zM682 244h1v1h-1zM1098 244h1v1h-1zM135 245h1v1h-1zM681 245h1v1h-1zM1099 245h1v1h-1zM135 246h1v1h-1zM680 246h1v1h-1zM1100 246h1v1h-1zM136 247h1v1h-1zM680 247h1v1h-1zM1101 247h1v1h-1zM136 248h1v1h-1zM679 248h1v1h-1zM1102 248h1v1h-1zM137 249h1v1h-1zM678 249h1v1h-1zM1103 249h1v1h-1zM137 250h1v1h-1zM677 250h1v1h-1zM1104 250h1v1h-1zM138 251h1v1h-1zM677 251h1v1h-1zM1105 251h1v1h-1zM138 252h1v1h-1zM676 252h1v1h-1zM1106 252h1v1h-1zM139 253h1v1h-1zM675 253h1v1h-1zM1107 253h1v1h-1zM139 254h1v1h-1zM675 254h1v1h-1zM1108 254h1v1h-1zM140 255h1v1h-1zM674 255h1v1h-1zM1109 255h1v1h-1zM140 256h1v1h-1zM673 256h1v1h-1zM1110 256h1v1h-1zM141 257h1v1h-1zM673 257h1v1h-1zM1111 257h1v1h-1zM141 258h1v1h-1zM672 258h1v1h-1zM1112 258h1v1h-1zM142 259h1v1h-1zM671 259h1v1h-1zM1113 259h1v1h-1zM142 260h1v1h-1zM670 260h1v1h-1zM1114 260h1v1h-1zM143 261h1v1h-1zM670 261h1v1h-1zM1115 261h1v1h-1zM143 262h1v1h-1zM669 262h1v1h-1zM1116 262h1v1h-1zM144 263h1v1h-1zM668 263h1v1h-1zM1116 263h1v1h-1zM144 264h1v1h-1zM668 264h1v1h-1zM1117 264h1v1h-1zM145 265h1v1h-1zM667 265h1v1h-1zM1118 265h1v1h-1zM145 266h1v1h-1zM666 266h1v1h-1zM1119 266h1v1h-1zM146 267h1v1h-1zM665 267h1v1h-1zM1119 267h1v1h-1zM146 268h1v1h-1zM665 268h1v1h-1zM1120 268h1v1h-1zM147 269h1v1h-1zM664 269h1v1h-1zM1121 269h1v1h-1zM147 270h1v1h-1zM663 270h1v1h-1zM1122 270h1v1h-1zM148 271h1v1h-1zM661 271h2v1h-2zM1122 271h1v1h-1zM148 272h1v1h-1zM660 272h1v1h-1zM1123 272h1v1h-1zM149 273h1v1h-1zM659 273h1v1h-1zM1124 273h1v1h-1zM150 274h1v1h-1zM658 274h1v1h-1zM1125 274h1v1h-1zM150 275h1v1h-1zM657 275h1v1h-1zM1125 275h1v1h-1zM151 276h1v1h-1zM655 276h2v1h-2zM1126 276h1v1h-1zM151 277h1v1h-1zM654 277h1v1h-1zM1127 277h1v1h-1zM152 278h1v1h-1zM653 278h1v1h-1zM1128 278h1v1h-1zM152 279h1v1h-1zM652 279h1v1h-1zM1128 279h1v1h-1zM153 280h1v1h-1zM651 280h1v1h-1zM1129 280h1v1h-1zM153 281h1v1h-1zM649 281h2v1h-2zM1130 281h1v1h-1zM154 282h1v1h-1zM648 282h1v1h-1zM1131 282h1v1h-1zM155 283h1v1h-1zM647 283h1v1h-1zM1131 283h1v1h-1zM156 284h1v1h-1zM646 284h1v1h-1zM1132 284h1v1h-1zM156 285h1v1h-1zM644 285h2v1h-2zM1133 285h1v1h-1zM157 286h1v1h-1zM643 286h1v1h-1zM1134 286h1v1h-1zM158 287h1v1h-1zM641 287h2v1h-2zM1134 287h1v1h-1zM159 288h1v1h-1zM640 288h1v1h-1zM1135 288h1v1h-1zM160 289h1v1h-1zM638 289h2v1h-2zM1136 289h1v1h-1zM160 290h1v1h-1zM637 290h1v1h-1zM1137 290h1v1h-1zM161 291h1v1h-1zM635 291h2v1h-2zM1137 291h1v1h-1zM162 292h1v1h-1zM634 292h1v1h-1zM1138 292h1v1h-1zM163 293h1v1h-1zM632 293h2v1h-2zM1139 293h1v1h-1zM164 294h1v1h-1zM631 294h1v1h-1zM1140 294h1v1h-1zM164 295h1v1h-1zM629 295h2v1h-2zM1140 295h1v1h-1zM165 296h1v1h-1zM628 296h1v1h-1zM1141 296h1v1h-1zM166 297h1v1h-1zM626 297h2v1h-2zM1142 297h1v1h-1zM167 298h1v1h-1zM625 298h1v1h-1zM1143 298h1v1h-1zM168 299h1v1h-1zM623 299h2v1h-2zM1143 299h1v1h-1zM168 300h1v1h-1zM621 300h2v1h-2zM1144 300h1v1h-1zM169 301h1v1h-1zM620 301h1v1h-1zM1145 301h1v1h-1zM170 302h1v1h-1zM618 302h2v1h-2zM1146 302h1v1h-1zM171 303h1v1h-1zM617 303h1v1h-1zM1146 303h1v1h-1zM1310 303h1v1h-1zM171 304h1v1h-1zM615 304h2v1h-2zM1147 304h1v1h-1zM1309 304h1v1h-1zM172 305h1v1h-1zM613 305h2v1h-2zM1148 305h1v1h-1zM1307 305h2v1h-2zM173 306h1v1h-1zM612 306h1v1h-1zM1149 306h1v1h-1zM1306 306h1v1h-1zM174 307h1v1h-1zM610 307h2v1h-2zM1149 307h1v1h-1zM1305 307h1v1h-1zM175 308h1v1h-1zM609 308h1v1h-1zM1150 308h1v1h-1zM1303 308h2v1h-2zM175 309h1v1h-1zM607 309h2v1h-2zM1151 309h1v1h-1zM1302 309h1v1h-1zM176 310h1v1h-1zM605 310h2v1h-2zM1152 310h1v1h-1zM1301 310h1v1h-1zM177 311h1v1h-1zM604 311h1v1h-1zM1152 311h1v1h-1zM1300 311h1v1h-1zM178 312h1v1h-1zM603 312h1v1h-1zM1153 312h1v1h-1zM1299 312h1v1h-1zM178 313h1v1h-1zM603 313h1v1h-1zM1154 313h1v1h-1zM1298 313h1v1h-1zM179 314h1v1h-1zM602 314h1v1h-1zM1155 314h1v1h-1zM1297 314h1v1h-1zM180 315h1v1h-1zM601 315h1v1h-1zM1156 315h1v1h-1zM1296 315h1v1h-1zM181 316h1v1h-1zM600 316h1v1h-1zM1157 316h1v1h-1zM1296 316h1v1h-1zM182 317h1v1h-1zM600 317h1v1h-1zM1158 317h1v1h-1zM1295 317h1v1h-1zM183 318h1v1h-1zM599 318h1v1h-1zM1159 318h1v1h-1zM1294 318h1v1h-1zM184 319h1v1h-1zM598 319h1v1h-1zM1160 319h1v1h-1zM1293 319h1v1h-1zM185 320h1v1h-1zM598 320h1v1h-1zM1161 320h1v1h-1zM1292 320h1v1h-1zM186 321h1v1h-1zM597 321h1v1h-1zM1161 321h1v1h-1zM1291 321h1v1h-1zM187 322h1v1h-1zM596 322h1v1h-1zM1162 322h1v1h-1zM1290 322h1v1h-1zM188 323h1v1h-1zM596 323h1v1h-1zM1163 323h1v1h-1zM1289 323h1v1h-1zM188 324h1v1h-1zM595 324h1v1h-1zM1164 324h1v1h-1zM1288 324h1v1h-1zM189 325h1v1h-1zM594 325h1v1h-1zM1165 325h1v1h-1zM1286 325h2v1h-2zM189 326h1v1h-1zM593 326h1v1h-1zM1166 326h1v1h-1zM1285 326h1v1h-1zM190 327h1v1h-1zM593 327h1v1h-1zM1167 327h1v1h-1zM1284 327h1v1h-1zM190 328h1v1h-1zM592 328h1v1h-1zM1168 328h1v1h-1zM1283 328h1v1h-1zM191 329h1v1h-1zM591 329h1v1h-1zM1169 329h1v1h-1zM1282 329h1v1h-1zM191 330h1v1h-1zM591 330h1v1h-1zM1170 330h1v1h-1zM1281 330h1v1h-1zM191 331h1v1h-1zM590 331h1v1h-1zM1170 331h1v1h-1zM1279 331h2v1h-2zM192 332h1v1h-1zM589 332h1v1h-1zM1171 332h1v1h-1zM1278 332h1v1h-1zM192 333h1v1h-1zM589 333h1v1h-1zM1172 333h1v1h-1zM1277 333h1v1h-1zM193 334h1v1h-1zM588 334h1v1h-1zM1173 334h1v1h-1zM1276 334h1v1h-1zM193 335h1v1h-1zM587 335h1v1h-1zM1174 335h1v1h-1zM1275 335h1v1h-1zM193 336h1v1h-1zM586 336h1v1h-1zM1175 336h1v1h-1zM1274 336h1v1h-1zM194 337h1v1h-1zM586 337h1v1h-1zM1175 337h1v1h-1zM1273 337h1v1h-1zM194 338h1v1h-1zM585 338h1v1h-1zM1176 338h1v1h-1zM1272 338h1v1h-1zM195 339h1v1h-1zM584 339h1v1h-1zM1177 339h1v1h-1zM1271 339h1v1h-1zM195 340h1v1h-1zM583 340h1v1h-1zM1178 340h1v1h-1zM1269 340h2v1h-2zM196 341h1v1h-1zM583 341h1v1h-1zM1179 341h1v1h-1zM1268 341h1v1h-1zM196 342h1v1h-1zM582 342h1v1h-1zM1179 342h1v1h-1zM1267 342h1v1h-1zM196 343h1v1h-1zM581 343h1v1h-1zM1180 343h1v1h-1zM1266 343h1v1h-1zM197 344h1v1h-1zM580 344h1v1h-1zM1181 344h1v1h-1zM1265 344h1v1h-1zM197 345h1v1h-1zM580 345h1v1h-1zM1182 345h1v1h-1zM1264 345h1v1h-1zM198 346h1v1h-1zM579 346h1v1h-1zM1183 346h1v1h-1zM1263 346h1v1h-1zM198 347h1v1h-1zM578 347h1v1h-1zM1184 347h1v1h-1zM1262 347h1v1h-1zM199 348h1v1h-1zM577 348h1v1h-1zM1185 348h1v1h-1zM1261 348h1v1h-1zM199 349h1v1h-1zM577 349h1v1h-1zM1186 349h1v1h-1zM1261 349h1v1h-1zM200 350h1v1h-1zM576 350h1v1h-1zM1187 350h1v1h-1zM1260 350h1v1h-1zM200 351h1v1h-1zM575 351h1v1h-1zM1188 351h1v1h-1zM1259 351h1v1h-1zM201 352h1v1h-1zM574 352h1v1h-1zM1188 352h1v1h-1zM1258 352h1v1h-1zM201 353h1v1h-1zM574 353h1v1h-1zM1189 353h1v1h-1zM1258 353h1v1h-1zM201 354h1v1h-1zM573 354h1v1h-1zM1190 354h1v1h-1zM1257 354h1v1h-1zM202 355h1v1h-1zM572 355h1v1h-1zM1191 355h1v1h-1zM1256 355h1v1h-1zM202 356h1v1h-1zM571 356h1v1h-1zM1192 356h1v1h-1zM1255 356h1v1h-1zM203 357h1v1h-1zM571 357h1v1h-1zM1193 357h1v1h-1zM1254 357h1v1h-1zM203 358h1v1h-1zM570 358h1v1h-1zM1194 358h1v1h-1zM1254 358h1v1h-1zM204 359h1v1h-1zM569 359h1v1h-1zM1195 359h1v1h-1zM1253 359h1v1h-1zM204 360h1v1h-1zM568 360h1v1h-1zM1196 360h1v1h-1zM1252 360h1v1h-1zM205 361h1v1h-1zM568 361h1v1h-1zM1197 361h1v1h-1zM1251 361h1v1h-1zM205 362h1v1h-1zM567 362h1v1h-1zM1198 362h2v1h-2zM1251 362h1v1h-1zM206 363h1v1h-1zM566 363h1v1h-1zM1200 363h1v1h-1zM1250 363h1v1h-1zM207 364h2v1h-2zM565 364h1v1h-1zM1201 364h1v1h-1zM1249 364h1v1h-1zM209 365h1v1h-1zM564 365h1v1h-1zM1202 365h1v1h-1zM1247 365h2v1h-2zM210 366h1v1h-1zM564 366h1v1h-1zM1203 366h1v1h-1zM1245 366h2v1h-2zM211 367h2v1h-2zM563 367h1v1h-1zM1204 367h2v1h-2zM1244 367h1v1h-1zM213 368h3v1h-3zM562 368h1v1h-1zM1206 368h1v1h-1zM1242 368h2v1h-2zM216 369h6v1h-6zM561 369h1v1h-1zM1207 369h1v1h-1zM1241 369h1v1h-1zM222 370h4v1h-4zM560 370h1v1h-1zM1208 370h2v1h-2zM1239 370h2v1h-2zM226 371h2v1h-2zM560 371h1v1h-1zM1210 371h3v1h-3zM1237 371h2v1h-2zM228 372h1v1h-1zM559 372h1v1h-1zM1213 372h2v1h-2zM1234 372h3v1h-3zM229 373h2v1h-2zM558 373h1v1h-1zM1215 373h3v1h-3zM1229 373h5v1h-5zM231 374h1v1h-1zM557 374h1v1h-1zM1218 374h3v1h-3zM1225 374h4v1h-4zM232 375h2v1h-2zM557 375h1v1h-1zM1221 375h4v1h-4zM234 376h1v1h-1zM556 376h1v1h-1zM235 377h2v1h-2zM555 377h1v1h-1zM237 378h1v1h-1zM554 378h1v1h-1zM238 379h2v1h-2zM553 379h1v1h-1zM240 380h2v1h-2zM553 380h1v1h-1zM242 381h1v1h-1zM552 381h1v1h-1zM243 382h2v1h-2zM551 382h1v1h-1zM245 383h2v1h-2zM550 383h1v1h-1zM247 384h2v1h-2zM549 384h1v1h-1zM249 385h1v1h-1zM549 385h1v1h-1zM250 386h2v1h-2zM548 386h1v1h-1zM252 387h2v1h-2zM547 387h1v1h-1zM254 388h4v1h-4zM545 388h2v1h-2zM258 389h7v1h-7zM544 389h1v1h-1zM265 390h5v1h-5zM542 390h2v1h-2zM270 391h2v1h-2zM541 391h1v1h-1zM272 392h3v1h-3zM539 392h2v1h-2zM275 393h2v1h-2zM538 393h1v1h-1zM277 394h2v1h-2zM537 394h1v1h-1zM279 395h1v1h-1zM535 395h2v1h-2zM280 396h2v1h-2zM534 396h1v1h-1zM282 397h1v1h-1zM532 397h2v1h-2zM283 398h1v1h-1zM531 398h1v1h-1zM284 399h1v1h-1zM529 399h2v1h-2zM285 400h2v1h-2zM527 400h2v1h-2zM287 401h1v1h-1zM523 401h4v1h-4zM288 402h3v1h-3zM519 402h4v1h-4zM291 403h6v1h-6zM515 403h4v1h-4zM297 404h7v1h-7zM511 404h4v1h-4zM304 405h8v1h-8zM505 405h6v1h-6zM312 406h5v1h-5zM499 406h6v1h-6zM317 407h2v1h-2zM493 407h6v1h-6zM319 408h2v1h-2zM489 408h4v1h-4zM321 409h2v1h-2zM485 409h4v1h-4zM323 410h2v1h-2zM482 410h3v1h-3zM325 411h2v1h-2zM479 411h3v1h-3zM327 412h2v1h-2zM475 412h4v1h-4zM329 413h2v1h-2zM472 413h3v1h-3zM331 414h2v1h-2zM469 414h3v1h-3zM333 415h2v1h-2zM465 415h4v1h-4zM335 416h2v1h-2zM463 416h2v1h-2zM337 417h2v1h-2zM461 417h2v1h-2zM339 418h2v1h-2zM459 418h2v1h-2zM341 419h2v1h-2zM457 419h2v1h-2zM343 420h2v1h-2zM455 420h2v1h-2zM345 421h2v1h-2zM453 421h2v1h-2zM347 422h4v1h-4zM451 422h2v1h-2zM351 423h6v1h-6zM449 423h2v1h-2zM357 424h6v1h-6zM447 424h2v1h-2zM363 425h7v1h-7zM445 425h2v1h-2zM370 426h6v1h-6zM443 426h2v1h-2zM376 427h7v1h-7zM441 427h2v1h-2zM383 428h5v1h-5zM439 428h2v1h-2zM388 429h4v1h-4zM437 429h2v1h-2zM392 430h3v1h-3zM435 430h2v1h-2zM395 431h4v1h-4zM432 431h3v1h-3zM399 432h4v1h-4zM430 432h2v1h-2zM403 433h4v1h-4zM428 433h2v1h-2zM407 434h6v1h-6zM426 434h2v1h-2zM413 435h6v1h-6zM424 435h2v1h-2zM419 436h5v1h-5z" fill="#ff4500" shape-rendering="crispEdges"/>
</svg>
<g shape-rendering="crispEdges">
<rect x="6" y="155" width="1651" height="2" fill="#ff0000"/>
<rect x="5" y="153" width="6" height="6" fill="#ff0000"/><rect x="7" y="155" width="2" height="2" fill="#fff"/>
<rect x="1651" y="153" width="6" height="6" fill="#ff0000"/><rect x="1653" y="155" width="2" height="2" fill="#fff"/>
<rect x="6" y="315" width="1651" height="3" fill="#00ff7f"/>
<rect x="5" y="313" width="7" height="7" fill="#00ff7f"/><rect x="8" y="316" width="1" height="1" fill="#fff"/>
<rect x="1651" y="313" width="7" height="7" fill="#00ff7f"/><rect x="1654" y="316" width="1" height="1" fill="#fff"/>
<rect x="6" y="402" width="1651" height="3" fill="#0000ff"/>
<rect x="5" y="400" width="7" height="7" fill="#0000ff"/><rect x="8" y="403" width="1" height="1" fill="#fff"/>
<rect x="1651" y="400" width="7" height="7" fill="#0000ff"/><rect x="1654" y="403" width="1" height="1" fill="#fff"/>
</g>
<svg x="6" y="36" width="1651" height="484" viewBox="6 36 1651 484" overflow="hidden">
<g shape-rendering="crispEdges">
<rect x="46" y="217" width="1" height="156" fill="#32cd32"/>
<rect x="44" y="249" width="5" height="91" fill="#32cd32"/>
<rect x="54" y="318" width="1" height="88" fill="#32cd32"/>
<rect x="52" y="341" width="5" height="21" fill="#32cd32"/>
<rect x="62" y="292" width="1" height="35" fill="#ff4500"/>
<rect x="60" y="314" width="5" height="7" fill="#ff4500"/>
<rect x="70" y="284" width="1" height="70" fill="#ff4500"/>
<rect x="68" y="311" width="5" height="4" fill="#ff4500"/>
<rect x="78" y="297" width="1" height="80" fill="#ff4500"/>
<rect x="76" y="314" width="5" height="60" fill="#ff4500"/>
<rect x="86" y="314" width="1" height="65" fill="#32cd32"/>
<rect x="84" y="314" width="5" height="51" fill="#32cd32"/>
<rect x="94" y="368" width="1" height="91" fill="#32cd32"/>
<rect x="92" y="387" width="5" height="59" fill="#32cd32"/>
<rect x="102" y="381" width="1" height="70" fill="#ff4500"/>
<rect x="100" y="433" width="5" height="13" fill="#ff4500"/>
<rect x="110" y="308" width="1" height="90" fill="#ff4500"/>
<rect x="108" y="372" width="5" height="7" fill="#ff4500"/>
<rect x="118" y="286" width="1" height="181" fill="#ff4500"/>
<rect x="116" y="317" width="5" height="54" fill="#ff4500"/>
<rect x="126" y="338" width="1" height="33" fill="#32cd32"/>
<rect x="124" y="356" width="5" height="6" fill="#32cd32"/>
<rect x="134" y="358" width="1" height="36" fill="#32cd32"/>
<rect x="132" y="363" width="5" height="9" fill="#32cd32"/>
<rect x="142" y="342" width="1" height="61" fill="#ff4500"/>
<rect x="140" y="370" width="5" height="15" fill="#ff4500"/>
<rect x="150" y="344" width="1" height="48" fill="#32cd32"/>
<rect x="148" y="370" width="5" height="22" fill="#32cd32"/>
<rect x="158" y="334" width="1" height="28" fill="#ff4500"/>
<rect x="156" y="344" width="5" height="6" fill="#ff4500"/>
<rect x="166" y="283" width="1" height="62" fill="#ff4500"/>
<rect x="164" y="313" width="5" height="32" fill="#ff4500"/>
<rect x="174" y="329" width="1" height="32" fill="#ff4500"/>
<rect x="172" y="335" width="5" height="2" fill="#ff4500"/>
<rect x="182" y="319" width="1" height="27" fill="#ff4500"/>
<rect x="180" y="325" width="5" height="11" fill="#ff4500"/>
<rect x="190" y="313" width="1" height="102" fill="#32cd32"/>
<rect x="188" y="315" width="5" height="83" fill="#32cd32"/>
<rect x="198" y="386" width="1" height="48" fill="#32cd32"/>
<rect x="196" y="397" width="5" height="16" fill="#32cd32"/>
<rect x="206" y="404" width="1" height="76" fill="#32cd32"/>
<rect x="204" y="409" width="5" height="38" fill="#32cd32"/>
<rect x="214" y="436" width="1" height="33" fill="#ff4500"/>
<rect x="212" y="443" width="5" height="5" fill="#ff4500"/>
<rect x="222" y="355" width="1" height="86" fill="#ff4500"/>
<rect x="220" y="364" width="5" height="70" fill="#ff4500"/>
<rect x="230" y="363" width="1" height="42" fill="#32cd32"/>
<rect x="228" y="363" width="5" height="42" fill="#32cd32"/>
<rect x="238" y="388" width="1" height="32" fill="#32cd32"/>
<rect x="236" y="401" width="5" height="2" fill="#32cd32"/>
<rect x="246" y="399" width="1" height="41" fill="#32cd32"/>
<rect x="244" y="400" width="5" height="9" fill="#32cd32"/>
<rect x="254" y="423" width="1" height="64" fill="#32cd32"/>
<rect x="252" y="427" width="5" height="33" fill="#32cd32"/>
<rect x="262" y="447" width="1" height="34" fill="#32cd32"/>
<rect x="260" y="459" width="5" height="15" fill="#32cd32"/>
<rect x="270" y="425" width="1" height="50" fill="#32cd32"/>
<rect x="268" y="460" width="5" height="14" fill="#32cd32"/>
<rect x="278" y="439" width="1" height="41" fill="#ff4500"/>
<rect x="276" y="462" width="5" height="9" fill="#ff4500"/>
<rect x="286" y="451" width="1" height="57" fill="#32cd32"/>
<rect x="284" y="457" width="5" height="9" fill="#32cd32"/>
<rect x="294" y="401" width="1" height="68" fill="#ff4500"/>
<rect x="292" y="424" width="5" height="44" fill="#ff4500"/>
<rect x="302" y="374" width="1" height="53" fill="#ff4500"/>
<rect x="300" y="379" width="5" height="47" fill="#ff4500"/>
<rect x="310" y="371" width="1" height="52" fill="#32cd32"/>
<rect x="308" y="379" width="5" height="27" fill="#32cd32"/>
<rect x="318" y="399" width="1" height="24" fill="#ff4500"/>
<rect x="316" y="405" width="5" height="12" fill="#ff4500"/>
<rect x="326" y="358" width="1" height="48" fill="#ff4500"/>
<rect x="324" y="402" width="5" height="4" fill="#ff4500"/>
<rect x="334" y="399" width="1" height="65" fill="#32cd32"/>
<rect x="332" y="399" width="5" height="45" fill="#32cd32"/>
<rect x="342" y="404" width="1" height="51" fill="#ff4500"/>
<rect x="340" y="411" width="5" height="33" fill="#ff4500"/>
<rect x="350" y="376" width="1" height="51" fill="#ff4500"/>
<rect x="348" y="413" width="5" height="5" fill="#ff4500"/>
<rect x="358" y="396" width="1" height="45" fill="#32cd32"/>
<rect x="356" y="413" width="5" height="23" fill="#32cd32"/>
<rect x="366" y="368" width="1" height="81" fill="#32cd32"/>
<rect x="364" y="410" width="5" height="21" fill="#32cd32"/>
<rect x="374" y="400" width="1" height="37" fill="#ff4500"/>
<rect x="372" y="416" width="5" height="15" fill="#ff4500"/>
<rect x="382" y="410" width="1" height="57" fill="#32cd32"/>
<rect x="380" y="417" width="5" height="31" fill="#32cd32"/>
<rect x="390" y="442" width="1" height="23" fill="#ff4500"/>
<rect x="388" y="444" width="5" height="5" fill="#ff4500"/>
<rect x="398" y="408" width="1" height="36" fill="#32cd32"/>
<rect x="396" y="412" width="5" height="13" fill="#32cd32"/>
<rect x="406" y="409" width="1" height="50" fill="#32cd32"/>
<rect x="404" y="424" width="5" height="34" fill="#32cd32"/>
<rect x="414" y="449" width="1" height="31" fill="#ff4500"/>
<rect x="412" y="452" width="5" height="2" fill="#ff4500"/>
<rect x="422" y="451" width="1" height="40" fill="#32cd32"/>
<rect x="420" y="452" width="5" height="35" fill="#32cd32"/>
<rect x="430" y="415" width="1" height="64" fill="#ff4500"/>
<rect x="428" y="425" width="5" height="41" fill="#ff4500"/>
<rect x="438" y="418" width="1" height="32" fill="#32cd32"/>
<rect x="436" y="425" width="5" height="14" fill="#32cd32"/>
<rect x="446" y="341" width="1" height="88" fill="#ff4500"/>
<rect x="444" y="351" width="5" height="78" fill="#ff4500"/>
<rect x="454" y="311" width="1" height="44" fill="#ff4500"/>
<rect x="452" y="322" width="5" height="29" fill="#ff4500"/>
<rect x="462" y="329" width="1" height="32" fill="#32cd32"/>
<rect x="460" y="333" width="5" height="22" fill="#32cd32"/>
<rect x="470" y="341" width="1" height="18" fill="#ff4500"/>
<rect x="468" y="354" width="5" height="1" fill="#ff4500"/>
<rect x="478" y="344" width="1" height="52" fill="#ff4500"/>
<rect x="476" y="344" width="5" height="6" fill="#ff4500"/>
<rect x="486" y="339" width="1" height="33" fill="#32cd32"/>
<rect x="484" y="344" width="5" height="16" fill="#32cd32"/>
<rect x="494" y="336" width="1" height="36" fill="#32cd32"/>
<rect x="492" y="353" width="5" height="16" fill="#32cd32"/>
<rect x="502" y="359" width="1" height="37" fill="#32cd32"/>
<rect x="500" y="369" width="5" height="16" fill="#32cd32"/>
<rect x="510" y="349" width="1" height="46" fill="#32cd32"/>
<rect x="508" y="383" width="5" height="10" fill="#32cd32"/>
<rect x="518" y="367" width="1" height="27" fill="#ff4500"/>
<rect x="516" y="378" width="5" height="15" fill="#ff4500"/>
<rect x="526" y="356" width="1" height="44" fill="#ff4500"/>
<rect x="524" y="370" width="5" height="2" fill="#ff4500"/>
<rect x="534" y="360" width="1" height="26" fill="#ff4500"/>
<rect x="532" y="367" width="5" height="2" fill="#ff4500"/>
<rect x="542" y="244" width="1" height="59" fill="#32cd32"/>
<rect x="540" y="265" width="5" height="18" fill="#32cd32"/>
<rect x="550" y="276" width="1" height="41" fill="#32cd32"/>
<rect x="548" y="283" width="5" height="26" fill="#32cd32"/>
<rect x="558" y="172" width="1" height="162" fill="#ff4500"/>
<rect x="556" y="188" width="5" height="141" fill="#ff4500"/>
<rect x="566" y="187" width="1" height="57" fill="#32cd32"/>
<rect x="564" y="188" width="5" height="32" fill="#32cd32"/>
<rect x="574" y="176" width="1" height="42" fill="#32cd32"/>
<rect x="572" y="199" width="5" height="7" fill="#32cd32"/>
<rect x="582" y="201" width="1" height="31" fill="#32cd32"/>
<rect x="580" y="206" width="5" height="10" fill="#32cd32"/>
<rect x="590" y="197" width="1" height="36" fill="#32cd32"/>
<rect x="588" y="215" width="5" height="1" fill="#32cd32"/>
<rect x="598" y="208" width="1" height="17" fill="#ff4500"/>
<rect x="596" y="211" width="5" height="5" fill="#ff4500"/>
<rect x="606" y="211" width="1" height="90" fill="#32cd32"/>
<rect x="604" y="215" width="5" height="79" fill="#32cd32"/>
<rect x="614" y="242" width="1" height="60" fill="#ff4500"/>
<rect x="612" y="255" width="5" height="39" fill="#ff4500"/>
<rect x="622" y="238" width="1" height="40" fill="#ff4500"/>
<rect x="620" y="256" width="5" height="17" fill="#ff4500"/>
<rect x="630" y="248" width="1" height="17" fill="#32cd32"/>
<rect x="628" y="257" width="5" height="1" fill="#32cd32"/>
<rect x="638" y="184" width="1" height="61" fill="#ff4500"/>
<rect x="636" y="201" width="5" height="44" fill="#ff4500"/>
<rect x="646" y="198" width="1" height="42" fill="#32cd32"/>
<rect x="644" y="201" width="5" height="11" fill="#32cd32"/>
<rect x="654" y="214" width="1" height="31" fill="#32cd32"/>
<rect x="652" y="217" width="5" height="16" fill="#32cd32"/>
<rect x="662" y="208" width="1" height="32" fill="#ff4500"/>
<rect x="660" y="209" width="5" height="24" fill="#ff4500"/>
<rect x="670" y="95" width="1" height="63" fill="#ff4500"/>
<rect x="668" y="124" width="5" height="7" fill="#ff4500"/>
<rect x="678" y="105" width="1" height="22" fill="#ff4500"/>
<rect x="676" y="112" width="5" height="13" fill="#ff4500"/>
<rect x="686" y="109" width="1" height="18" fill="#ff4500"/>
<rect x="684" y="112" width="5" height="12" fill="#ff4500"/>
<rect x="694" y="103" width="1" height="19" fill="#ff4500"/>
<rect x="692" y="110" width="5" height="3" fill="#ff4500"/>
<rect x="702" y="120" width="1" height="27" fill="#32cd32"/>
<rect x="700" y="123" width="5" height="8" fill="#32cd32"/>
<rect x="710" y="128" width="1" height="30" fill="#32cd32"/>
<rect x="708" y="130" width="5" height="15" fill="#32cd32"/>
<rect x="718" y="128" width="1" height="40" fill="#32cd32"/>
<rect x="716" y="139" width="5" height="23" fill="#32cd32"/>
<rect x="726" y="154" width="1" height="39" fill="#32cd32"/>
<rect x="724" y="163" width="5" height="7" fill="#32cd32"/>
<rect x="734" y="148" width="1" height="33" fill="#ff4500"/>
<rect x="732" y="160" width="5" height="8" fill="#ff4500"/>
<rect x="742" y="140" width="1" height="23" fill="#ff4500"/>
<rect x="740" y="149" width="5" height="12" fill="#ff4500"/>
<rect x="750" y="167" width="1" height="113" fill="#32cd32"/>
<rect x="748" y="167" width="5" height="81" fill="#32cd32"/>
<rect x="758" y="218" width="1" height="39" fill="#000000"/>
<rect x="756" y="246" width="5" height="1" fill="#000000"/>
<rect x="766" y="230" width="1" height="42" fill="#32cd32"/>
<rect x="764" y="238" width="5" height="25" fill="#32cd32"/>
<rect x="774" y="246" width="1" height="24" fill="#ff4500"/>
<rect x="772" y="255" width="5" height="8" fill="#ff4500"/>
<rect x="782" y="229" width="1" height="35" fill="#32cd32"/>
<rect x="780" y="233" width="5" height="15" fill="#32cd32"/>
<rect x="790" y="243" width="1" height="25" fill="#32cd32"/>
<rect x="788" y="248" width="5" height="6" fill="#32cd32"/>
<rect x="798" y="203" width="1" height="45" fill="#32cd32"/>
<rect x="796" y="233" width="5" height="10" fill="#32cd32"/>
<rect x="806" y="237" width="1" height="37" fill="#32cd32"/>
<rect x="804" y="242" width="5" height="17" fill="#32cd32"/>
<rect x="814" y="207" width="1" height="56" fill="#ff4500"/>
<rect x="812" y="221" width="5" height="36" fill="#ff4500"/>
<rect x="822" y="212" width="1" height="19" fill="#32cd32"/>
<rect x="820" y="221" width="5" height="4" fill="#32cd32"/>
<rect x="830" y="178" width="1" height="117" fill="#ff4500"/>
<rect x="828" y="180" width="5" height="69" fill="#ff4500"/>
<rect x="838" y="177" width="1" height="45" fill="#32cd32"/>
<rect x="836" y="179" width="5" height="29" fill="#32cd32"/>
<rect x="846" y="198" width="1" height="30" fill="#32cd32"/>
<rect x="844" y="213" width="5" height="6" fill="#32cd32"/>
<rect x="854" y="216" width="1" height="17" fill="#32cd32"/>
<rect x="852" y="218" width="5" height="6" fill="#32cd32"/>
<rect x="862" y="207" width="1" height="45" fill="#ff4500"/>
<rect x="860" y="216" width="5" height="24" fill="#ff4500"/>
<rect x="870" y="210" width="1" height="22" fill="#32cd32"/>
<rect x="868" y="216" width="5" height="15" fill="#32cd32"/>
<rect x="878" y="248" width="1" height="24" fill="#32cd32"/>
<rect x="876" y="253" width="5" height="11" fill="#32cd32"/>
<rect x="886" y="248" width="1" height="24" fill="#32cd32"/>
<rect x="884" y="265" width="5" height="4" fill="#32cd32"/>
<rect x="894" y="196" width="1" height="58" fill="#ff4500"/>
<rect x="892" y="215" width="5" height="34" fill="#ff4500"/>
<rect x="902" y="210" width="1" height="21" fill="#32cd32"/>
<rect x="900" y="214" width="5" height="12" fill="#32cd32"/>
<rect x="910" y="212" width="1" height="65" fill="#32cd32"/>
<rect x="908" y="221" width="5" height="10" fill="#32cd32"/>
<rect x="918" y="231" width="1" height="28" fill="#32cd32"/>
<rect x="916" y="231" width="5" height="27" fill="#32cd32"/>
<rect x="926" y="239" width="1" height="25" fill="#32cd32"/>
<rect x="924" y="245" width="5" height="10" fill="#32cd32"/>
<rect x="934" y="241" width="1" height="18" fill="#ff4500"/>
<rect x="932" y="246" width="5" height="9" fill="#ff4500"/>
<rect x="942" y="181" width="1" height="49" fill="#ff4500"/>
<rect x="940" y="199" width="5" height="31" fill="#ff4500"/>
<rect x="950" y="198" width="1" height="26" fill="#32cd32"/>
<rect x="948" y="199" width="5" height="17" fill="#32cd32"/>
<rect x="958" y="179" width="1" height="40" fill="#ff4500"/>
<rect x="956" y="194" width="5" height="17" fill="#ff4500"/>
<rect x="966" y="175" width="1" height="27" fill="#ff4500"/>
<rect x="964" y="176" width="5" height="20" fill="#ff4500"/>
<rect x="974" y="175" width="1" height="18" fill="#ff4500"/>
<rect x="972" y="187" width="5" height="5" fill="#ff4500"/>
<rect x="982" y="162" width="1" height="28" fill="#ff4500"/>
<rect x="980" y="172" width="5" height="16" fill="#ff4500"/>
<rect x="990" y="170" width="1" height="27" fill="#32cd32"/>
<rect x="988" y="176" width="5" height="8" fill="#32cd32"/>
<rect x="998" y="179" width="1" height="19" fill="#ff4500"/>
<rect x="996" y="181" width="5" height="3" fill="#ff4500"/>
<rect x="1006" y="135" width="1" height="38" fill="#ff4500"/>
<rect x="1004" y="148" width="5" height="25" fill="#ff4500"/>
<rect x="1014" y="147" width="1" height="19" fill="#32cd32"/>
<rect x="1012" y="148" width="5" height="16" fill="#32cd32"/>
<rect x="1022" y="177" width="1" height="24" fill="#32cd32"/>
<rect x="1020" y="177" width="5" height="10" fill="#32cd32"/>
<rect x="1030" y="178" width="1" height="18" fill="#32cd32"/>
<rect x="1028" y="186" width="5" height="1" fill="#32cd32"/>
<rect x="1038" y="196" width="1" height="41" fill="#32cd32"/>
<rect x="1036" y="207" width="5" height="23" fill="#32cd32"/>
<rect x="1046" y="221" width="1" height="20" fill="#ff4500"/>
<rect x="1044" y="225" width="5" height="6" fill="#ff4500"/>
<rect x="1054" y="285" width="1" height="32" fill="#ff4500"/>
<rect x="1052" y="300" width="5" height="8" fill="#ff4500"/>
<rect x="1062" y="280" width="1" height="25" fill="#ff4500"/>
<rect x="1060" y="289" width="5" height="11" fill="#ff4500"/>
<rect x="1070" y="304" width="1" height="43" fill="#32cd32"/>
<rect x="1068" y="317" width="5" height="18" fill="#32cd32"/>
<rect x="1078" y="329" width="1" height="37" fill="#32cd32"/>
<rect x="1076" y="333" width="5" height="30" fill="#32cd32"/>
<rect x="1086" y="418" width="1" height="41" fill="#32cd32"/>
<rect x="1084" y="423" width="5" height="11" fill="#32cd32"/>
<rect x="1094" y="391" width="1" height="34" fill="#ff4500"/>
<rect x="1092" y="404" width="5" height="21" fill="#ff4500"/>
<rect x="1102" y="387" width="1" height="32" fill="#32cd32"/>
<rect x="1100" y="389" width="5" height="21" fill="#32cd32"/>
<rect x="1110" y="403" width="1" height="31" fill="#32cd32"/>
<rect x="1108" y="409" width="5" height="23" fill="#32cd32"/>
<rect x="1118" y="380" width="1" height="31" fill="#ff4500"/>
<rect x="1116" y="389" width="5" height="8" fill="#ff4500"/>
<rect x="1126" y="377" width="1" height="23" fill="#32cd32"/>
<rect x="1124" y="389" width="5" height="3" fill="#32cd32"/>
<rect x="1134" y="371" width="1" height="46" fill="#32cd32"/>
<rect x="1132" y="373" width="5" height="40" fill="#32cd32"/>
<rect x="1142" y="402" width="1" height="25" fill="#ff4500"/>
<rect x="1140" y="409" width="5" height="4" fill="#ff4500"/>
<rect x="1150" y="370" width="1" height="34" fill="#ff4500"/>
<rect x="1148" y="381" width="5" height="10" fill="#ff4500"/>
<rect x="1158" y="351" width="1" height="46" fill="#ff4500"/>
<rect x="1156" y="357" width="5" height="24" fill="#ff4500"/>
<rect x="1166" y="364" width="1" height="23" fill="#32cd32"/>
<rect x="1164" y="374" width="5" height="9" fill="#32cd32"/>
<rect x="1174" y="375" width="1" height="19" fill="#ff4500"/>
<rect x="1172" y="377" width="5" height="6" fill="#ff4500"/>
<rect x="1182" y="321" width="1" height="30" fill="#32cd32"/>
<rect x="1180" y="331" width="5" height="10" fill="#32cd32"/>
<rect x="1190" y="337" width="1" height="21" fill="#32cd32"/>
<rect x="1188" y="339" width="5" height="18" fill="#32cd32"/>
<rect x="1198" y="384" width="1" height="46" fill="#ff4500"/>
<rect x="1196" y="389" width="5" height="34" fill="#ff4500"/>
<rect x="1206" y="349" width="1" height="51" fill="#ff4500"/>
<rect x="1204" y="355" width="5" height="36" fill="#ff4500"/>
<rect x="1214" y="315" width="1" height="55" fill="#ff4500"/>
<rect x="1212" y="326" width="5" height="25" fill="#ff4500"/>
<rect x="1222" y="318" width="1" height="31" fill="#32cd32"/>
<rect x="1220" y="325" width="5" height="20" fill="#32cd32"/>
<rect x="1230" y="270" width="1" height="61" fill="#ff4500"/>
<rect x="1228" y="270" width="5" height="40" fill="#ff4500"/>
<rect x="1238" y="239" width="1" height="40" fill="#ff4500"/>
<rect x="1236" y="243" width="5" height="28" fill="#ff4500"/>
<rect x="1246" y="232" width="1" height="24" fill="#ff4500"/>
<rect x="1244" y="246" width="5" height="9" fill="#ff4500"/>
<rect x="1254" y="240" width="1" height="16" fill="#32cd32"/>
<rect x="1252" y="246" width="5" height="9" fill="#32cd32"/>
<rect x="1262" y="243" width="1" height="18" fill="#ff4500"/>
<rect x="1260" y="252" width="5" height="4" fill="#ff4500"/>
<rect x="1270" y="244" width="1" height="12" fill="#ff4500"/>
<rect x="1268" y="251" width="5" height="1" fill="#ff4500"/>
<rect x="1278" y="240" width="1" height="25" fill="#32cd32"/>
<rect x="1276" y="243" width="5" height="18" fill="#32cd32"/>
<rect x="1286" y="242" width="1" height="26" fill="#ff4500"/>
<rect x="1284" y="248" width="5" height="13" fill="#ff4500"/>
<rect x="1294" y="201" width="1" height="53" fill="#ff4500"/>
<rect x="1292" y="217" width="5" height="30" fill="#ff4500"/>
<rect x="1302" y="205" width="1" height="27" fill="#32cd32"/>
<rect x="1300" y="218" width="5" height="3" fill="#32cd32"/>
<rect x="1310" y="251" width="1" height="25" fill="#ff4500"/>
<rect x="1308" y="259" width="5" height="13" fill="#ff4500"/>
<rect x="6" y="66" width="1" height="76" fill="#32cd32"/>
</g>
</svg>
<path d="M1319 36 L1331 36 L1325 42 Z" fill="#b4b4b4"/>
<path d="M9.5 48 L13.5 43 L17.5 48 Z" fill="#000"/>
<text x="23.6" y="50" font-size="12.5" fill="#000" textLength="79" lengthAdjust="spacingAndGlyphs">CHINA300-,H4</text>
<text x="110.7" y="50" font-size="13" fill="#000" textLength="168.6">3754.2 3773.4 3750.6 3766.5</text>
<g shape-rendering="crispEdges">
<rect x="7" y="56" width="287" height="80" fill="#ffffff"/>
<rect x="9" y="58" width="68" height="28" fill="url(#gHdr)"/>
<rect x="9" y="58" width="68" height="1" fill="#0000c4"/><rect x="9" y="58" width="1" height="28" fill="#0000c4"/><rect x="76" y="58" width="1" height="28" fill="#0000c4"/>
<rect x="13" y="84" width="60" height="1" fill="#000090"/><rect x="13" y="85" width="60" height="1" fill="#7b7bff"/>
<rect x="224" y="58" width="68" height="28" fill="url(#gHdr)"/>
<rect x="224" y="58" width="68" height="1" fill="#0000c4"/><rect x="224" y="58" width="1" height="28" fill="#0000c4"/><rect x="291" y="58" width="1" height="28" fill="#0000c4"/>
<rect x="228" y="84" width="60" height="1" fill="#000090"/><rect x="228" y="85" width="60" height="1" fill="#7b7bff"/>
<rect x="9" y="86" width="141" height="48" fill="url(#gPrice)"/>
<rect x="76" y="85" width="74" height="1" fill="#0000c4"/><rect x="9" y="86" width="1" height="48" fill="#0000c4"/><rect x="149" y="85" width="1" height="49" fill="#0000c4"/><rect x="9" y="133" width="141" height="1" fill="#0000a0"/>
<rect x="152" y="86" width="140" height="48" fill="url(#gPrice)"/>
<rect x="152" y="85" width="73" height="1" fill="#0000c4"/><rect x="152" y="85" width="1" height="49" fill="#0000c4"/><rect x="291" y="86" width="1" height="48" fill="#0000c4"/><rect x="152" y="133" width="140" height="1" fill="#0000a0"/>
<rect x="9" y="86" width="67" height="1" fill="#3c3ce4"/><rect x="225" y="86" width="66" height="1" fill="#3c3ce4"/>
<rect x="77" y="58" width="147" height="27" fill="#ffffff"/>
<rect x="79" y="58" width="143" height="25" fill="#ffffff" stroke="#a9a9a9" stroke-width="1"/>
<rect x="81" y="60" width="21" height="21" fill="url(#gBtn)"/>
<rect x="103" y="59" width="1" height="23" fill="#b0b0b0"/>
<rect x="198" y="60" width="22" height="21" fill="url(#gBtn)"/>
<rect x="197" y="59" width="1" height="23" fill="#b0b0b0"/>
</g>
<path d="M87.5 69 L95.5 69 L91.5 73.5 Z" fill="#5b72c4"/>
<path d="M204.5 71 L212.5 71 L208.5 66.5 Z" fill="#5b72c4"/>
<text x="163" y="76" font-size="15" fill="#000" textLength="30.8" lengthAdjust="spacingAndGlyphs">1.00</text>
<text x="25.6" y="77" font-size="15" fill="#fff" textLength="34.4" lengthAdjust="spacingAndGlyphs">SELL</text>
<text x="243" y="77" font-size="15" fill="#fff" textLength="29.6" lengthAdjust="spacingAndGlyphs">BUY</text>
<text x="39.2" y="123" font-size="15.5" font-weight="bold" fill="#fff" textLength="35.6" lengthAdjust="spacingAndGlyphs">3765</text>
<circle cx="83.4" cy="120.2" r="2.6" fill="#fff"/>
<text x="87.8" y="123" font-size="42.5" fill="#fff" stroke="url(#gPriceU)" stroke-width="0.55" textLength="23.6" lengthAdjust="spacingAndGlyphs">0</text>
<text x="180.8" y="123" font-size="15.5" font-weight="bold" fill="#fff" textLength="35.6" lengthAdjust="spacingAndGlyphs">3770</text>
<circle cx="226.4" cy="120.4" r="2.6" fill="#fff"/>
<text x="231.3" y="123" font-size="42.5" fill="#fff" stroke="url(#gPriceU)" stroke-width="0.55" textLength="23.6" lengthAdjust="spacingAndGlyphs">6</text>
<g fill="none" stroke="#ff1c0e" stroke-width="3.4" stroke-linecap="butt" stroke-linejoin="miter" stroke-miterlimit="1.6">
<path d="M1200 81 L1179.5 95.5"/>
<path d="M1195 85.8 L1217 86.5 Q1205 98 1177.6 105.8"/>
<path d="M1191.5 93 L1197 97.5"/>
<path d="M1207 100 L1181 115.3"/>
<path d="M1203.5 104 L1220 104.5 Q1206 120 1179.5 125.5"/>
<path d="M1197 113.5 L1201.5 117"/>
<path d="M1248.5 80 L1251.2 85"/>
<path d="M1229.4 96 L1229.4 87.6 L1270.2 87.6 L1270.2 96"/>
<path d="M1244.5 93.5 L1227.5 105"/>
<path d="M1255.5 93 L1272 105"/>
<path d="M1232.7 107.3 L1267.1 107.3 M1250.3 107.3 L1250.3 122.9 M1227.6 122.9 L1272.6 122.9"/>
<path d="M1276.3 88 L1296.9 88"/>
<path d="M1286.8 79.6 L1278.3 104.4 L1296.9 104.4"/>
<path d="M1288.9 93 L1288.9 127.5"/>
<path d="M1276.3 117.8 L1297.8 113.2"/>
<path d="M1299 88 L1322.1 88 M1296.9 97.2 L1323.8 97.2"/>
<path d="M1309.5 79.6 L1302.2 108.2 L1320.9 108.2 L1311.5 118"/>
<path d="M1300.7 115.3 L1317.1 126.2"/>
<path d="M1326.4 90.1 L1342.8 90.1"/>
<path d="M1334.8 80 L1334.8 123.5 Q1334.8 125.8 1331 125.8 L1327.5 125.8"/>
<path d="M1325.9 107.7 L1341.9 102.3"/>
<path d="M1372.2 82.3 Q1360 84.5 1347.8 84.5 L1347.8 106 Q1347.8 118 1341.5 126.7"/>
<path d="M1347.8 99.8 L1373.9 99.8 M1363.4 99.8 L1363.4 127.5"/>
<path d="M1399.4 79.1 L1399.4 95.1 M1399.4 86.7 L1423 86.7"/>
<path d="M1383.9 113.6 L1383.9 96.8 L1417.1 96.8 L1417.1 113.6 M1383.9 109.8 L1417.1 109.8"/>
<path d="M1383.5 117 L1377.6 126.7 M1392.3 115.7 L1395.7 126.2 M1403.6 115.7 L1407.4 125.8 M1415.8 115.7 L1421.3 126.7"/>
</g>
<text x="1425.5" y="121" font-size="55" fill="#ff1c0e" textLength="114" lengthAdjust="spacingAndGlyphs">3710</text>
<g shape-rendering="crispEdges" fill="#000">
<rect x="1658" y="60" width="2" height="1"/>
<rect x="1658" y="109" width="2" height="1"/>
<rect x="1658" y="207" width="2" height="1"/>
<rect x="1658" y="305" width="2" height="1"/>
<rect x="1658" y="354" width="2" height="1"/>
<rect x="1658" y="452" width="2" height="1"/>
<rect x="1658" y="501" width="2" height="1"/>
</g>
<text x="1663.5" y="64.6" font-size="13" fill="#000">3960.0</text>
<text x="1663.5" y="113.6" font-size="13" fill="#000">3912.0</text>
<text x="1663.5" y="211.6" font-size="13" fill="#000">3816.5</text>
<text x="1663.5" y="309.6" font-size="13" fill="#000">3721.0</text>
<text x="1663.5" y="358.6" font-size="13" fill="#000">3673.0</text>
<text x="1663.5" y="456.6" font-size="13" fill="#000">3577.5</text>
<text x="1663.5" y="505.6" font-size="13" fill="#000">3530.0</text>
<rect x="1659" y="150" width="49" height="14" fill="#ff0000" shape-rendering="crispEdges"/>
<text x="1663.5" y="161.6" font-size="13" fill="#fff">3866.0</text>
<rect x="1659" y="252" width="49" height="14" fill="#000000" shape-rendering="crispEdges"/>
<text x="1663.5" y="263.6" font-size="13" fill="#fff">3766.5</text>
<rect x="1659" y="310" width="49" height="14" fill="#00ff7f" shape-rendering="crispEdges"/>
<text x="1663.5" y="321.6" font-size="13" fill="#fff">3710.0</text>
<rect x="1659" y="397" width="49" height="14" fill="#0000ff" shape-rendering="crispEdges"/>
<text x="1663.5" y="408.6" font-size="13" fill="#fff">3626.0</text>
<g shape-rendering="crispEdges" fill="#c0c0c0">
<rect x="6" y="545" width="1" height="4"/>
<rect x="14" y="545" width="1" height="5"/>
<rect x="22" y="545" width="1" height="7"/>
<rect x="30" y="545" width="1" height="8"/>
<rect x="38" y="545" width="1" height="8"/>
<rect x="46" y="545" width="1" height="14"/>
<rect x="54" y="545" width="1" height="20"/>
<rect x="62" y="545" width="1" height="22"/>
<rect x="70" y="545" width="1" height="25"/>
<rect x="78" y="545" width="1" height="27"/>
<rect x="86" y="545" width="1" height="29"/>
<rect x="94" y="545" width="1" height="31"/>
<rect x="102" y="545" width="1" height="33"/>
<rect x="110" y="545" width="1" height="32"/>
<rect x="118" y="545" width="1" height="31"/>
<rect x="126" y="545" width="1" height="30"/>
<rect x="134" y="545" width="1" height="29"/>
<rect x="142" y="545" width="1" height="27"/>
<rect x="150" y="545" width="1" height="25"/>
<rect x="158" y="545" width="1" height="24"/>
<rect x="166" y="545" width="1" height="22"/>
<rect x="174" y="545" width="1" height="21"/>
<rect x="182" y="545" width="1" height="19"/>
<rect x="190" y="545" width="1" height="18"/>
<rect x="198" y="545" width="1" height="17"/>
<rect x="206" y="545" width="1" height="16"/>
<rect x="214" y="545" width="1" height="16"/>
<rect x="222" y="545" width="1" height="16"/>
<rect x="230" y="545" width="1" height="16"/>
<rect x="238" y="545" width="1" height="17"/>
<rect x="246" y="545" width="1" height="16"/>
<rect x="254" y="545" width="1" height="16"/>
<rect x="262" y="545" width="1" height="18"/>
<rect x="270" y="545" width="1" height="14"/>
<rect x="278" y="545" width="1" height="13"/>
<rect x="286" y="545" width="1" height="13"/>
<rect x="294" y="545" width="1" height="14"/>
<rect x="302" y="545" width="1" height="14"/>
<rect x="310" y="545" width="1" height="12"/>
<rect x="318" y="545" width="1" height="11"/>
<rect x="326" y="545" width="1" height="9"/>
<rect x="334" y="545" width="1" height="9"/>
<rect x="342" y="545" width="1" height="8"/>
<rect x="350" y="545" width="1" height="7"/>
<rect x="358" y="545" width="1" height="7"/>
<rect x="366" y="545" width="1" height="7"/>
<rect x="374" y="545" width="1" height="7"/>
<rect x="382" y="545" width="1" height="6"/>
<rect x="390" y="545" width="1" height="7"/>
<rect x="398" y="545" width="1" height="6"/>
<rect x="406" y="545" width="1" height="5"/>
<rect x="414" y="545" width="1" height="7"/>
<rect x="422" y="545" width="1" height="7"/>
<rect x="430" y="545" width="1" height="7"/>
<rect x="438" y="545" width="1" height="7"/>
<rect x="446" y="545" width="1" height="5"/>
<rect x="454" y="545" width="1" height="1"/>
<rect x="462" y="545" width="1" height="1"/>
<rect x="470" y="544" width="1" height="2"/>
<rect x="478" y="543" width="1" height="3"/>
<rect x="486" y="542" width="1" height="4"/>
<rect x="494" y="542" width="1" height="4"/>
<rect x="502" y="542" width="1" height="4"/>
<rect x="510" y="542" width="1" height="4"/>
<rect x="518" y="542" width="1" height="4"/>
<rect x="526" y="543" width="1" height="3"/>
<rect x="534" y="542" width="1" height="4"/>
<rect x="542" y="541" width="1" height="5"/>
<rect x="550" y="539" width="1" height="7"/>
<rect x="558" y="536" width="1" height="10"/>
<rect x="566" y="534" width="1" height="12"/>
<rect x="574" y="531" width="1" height="15"/>
<rect x="582" y="530" width="1" height="16"/>
<rect x="590" y="530" width="1" height="16"/>
<rect x="598" y="529" width="1" height="17"/>
<rect x="606" y="531" width="1" height="15"/>
<rect x="614" y="531" width="1" height="15"/>
<rect x="622" y="532" width="1" height="14"/>
<rect x="630" y="533" width="1" height="13"/>
<rect x="638" y="533" width="1" height="13"/>
<rect x="646" y="533" width="1" height="13"/>
<rect x="654" y="533" width="1" height="13"/>
<rect x="662" y="532" width="1" height="14"/>
<rect x="670" y="531" width="1" height="15"/>
<rect x="678" y="530" width="1" height="16"/>
<rect x="686" y="529" width="1" height="17"/>
<rect x="694" y="527" width="1" height="19"/>
<rect x="702" y="527" width="1" height="19"/>
<rect x="710" y="529" width="1" height="17"/>
<rect x="718" y="529" width="1" height="17"/>
<rect x="726" y="530" width="1" height="16"/>
<rect x="734" y="531" width="1" height="15"/>
<rect x="742" y="532" width="1" height="14"/>
<rect x="750" y="535" width="1" height="11"/>
<rect x="758" y="537" width="1" height="9"/>
<rect x="766" y="540" width="1" height="6"/>
<rect x="774" y="542" width="1" height="4"/>
<rect x="782" y="543" width="1" height="3"/>
<rect x="790" y="545" width="1" height="1"/>
<rect x="806" y="545" width="1" height="1"/>
<rect x="814" y="545" width="1" height="1"/>
<rect x="822" y="545" width="1" height="1"/>
<rect x="846" y="545" width="1" height="1"/>
<rect x="854" y="545" width="1" height="1"/>
<rect x="894" y="545" width="1" height="1"/>
<rect x="902" y="545" width="1" height="1"/>
<rect x="910" y="545" width="1" height="1"/>
<rect x="918" y="545" width="1" height="1"/>
<rect x="942" y="544" width="1" height="2"/>
<rect x="950" y="544" width="1" height="2"/>
<rect x="958" y="544" width="1" height="2"/>
<rect x="966" y="543" width="1" height="3"/>
<rect x="974" y="542" width="1" height="4"/>
<rect x="982" y="542" width="1" height="4"/>
<rect x="990" y="542" width="1" height="4"/>
<rect x="998" y="541" width="1" height="5"/>
<rect x="1006" y="540" width="1" height="6"/>
<rect x="1014" y="540" width="1" height="6"/>
<rect x="1022" y="540" width="1" height="6"/>
<rect x="1030" y="541" width="1" height="5"/>
<rect x="1038" y="542" width="1" height="4"/>
<rect x="1046" y="544" width="1" height="2"/>
<rect x="1054" y="545" width="1" height="1"/>
<rect x="1062" y="545" width="1" height="1"/>
<rect x="1070" y="545" width="1" height="4"/>
<rect x="1078" y="545" width="1" height="7"/>
<rect x="1086" y="545" width="1" height="12"/>
<rect x="1094" y="545" width="1" height="14"/>
<rect x="1102" y="545" width="1" height="16"/>
<rect x="1110" y="545" width="1" height="18"/>
<rect x="1118" y="545" width="1" height="18"/>
<rect x="1126" y="545" width="1" height="18"/>
<rect x="1134" y="545" width="1" height="17"/>
<rect x="1142" y="545" width="1" height="17"/>
<rect x="1150" y="545" width="1" height="16"/>
<rect x="1158" y="545" width="1" height="15"/>
<rect x="1166" y="545" width="1" height="14"/>
<rect x="1174" y="545" width="1" height="14"/>
<rect x="1182" y="545" width="1" height="11"/>
<rect x="1190" y="545" width="1" height="9"/>
<rect x="1198" y="545" width="1" height="11"/>
<rect x="1206" y="545" width="1" height="10"/>
<rect x="1214" y="545" width="1" height="7"/>
<rect x="1222" y="545" width="1" height="7"/>
<rect x="1230" y="545" width="1" height="4"/>
<rect x="1238" y="545" width="1" height="1"/>
<rect x="1246" y="545" width="1" height="1"/>
<rect x="1254" y="543" width="1" height="3"/>
<rect x="1262" y="542" width="1" height="4"/>
<rect x="1270" y="541" width="1" height="5"/>
<rect x="1278" y="540" width="1" height="6"/>
<rect x="1286" y="540" width="1" height="6"/>
<rect x="1294" y="538" width="1" height="8"/>
<rect x="1302" y="538" width="1" height="8"/>
<rect x="1310" y="538" width="1" height="8"/>
</g>
<path d="M714 529h3v1h-3zM720 529h3v1h-3zM726 529h3v1h-3zM732 529h3v1h-3zM738 529h3v1h-3zM744 529h3v1h-3zM750 529h3v1h-3zM756 529h1v1h-1zM630 530h3v1h-3zM636 530h3v1h-3zM642 530h3v1h-3zM696 530h3v1h-3zM702 530h3v1h-3zM708 530h3v1h-3zM757 530h2v1h-2zM762 530h3v1h-3zM618 531h3v1h-3zM624 531h3v1h-3zM648 531h3v1h-3zM654 531h3v1h-3zM660 531h3v1h-3zM666 531h3v1h-3zM672 531h3v1h-3zM678 531h3v1h-3zM684 531h3v1h-3zM690 531h3v1h-3zM768 531h2v1h-2zM612 532h3v1h-3zM770 532h1v1h-1zM606 533h3v1h-3zM774 533h3v1h-3zM600 534h3v1h-3zM780 534h2v1h-2zM594 535h3v1h-3zM782 535h1v1h-1zM588 536h3v1h-3zM786 536h3v1h-3zM582 537h3v1h-3zM792 537h3v1h-3zM576 538h3v1h-3zM798 538h3v1h-3zM570 539h3v1h-3zM804 539h2v1h-2zM1309 539h2v1h-2zM6 540h2v1h-2zM558 540h3v1h-3zM564 540h3v1h-3zM806 540h1v1h-1zM810 540h3v1h-3zM1304 540h1v1h-1zM1308 540h1v1h-1zM8 541h1v1h-1zM548 541h1v1h-1zM552 541h3v1h-3zM816 541h3v1h-3zM1302 541h2v1h-2zM12 542h3v1h-3zM540 542h3v1h-3zM546 542h2v1h-2zM822 542h3v1h-3zM828 542h3v1h-3zM1015 542h2v1h-2zM1020 542h3v1h-3zM1026 542h3v1h-3zM1032 542h3v1h-3zM1038 542h3v1h-3zM1044 542h3v1h-3zM1050 542h3v1h-3zM1056 542h3v1h-3zM1062 542h3v1h-3zM1296 542h3v1h-3zM18 543h2v1h-2zM510 543h3v1h-3zM516 543h3v1h-3zM522 543h3v1h-3zM528 543h3v1h-3zM534 543h3v1h-3zM834 543h3v1h-3zM1002 543h3v1h-3zM1008 543h3v1h-3zM1014 543h1v1h-1zM1068 543h3v1h-3zM1290 543h3v1h-3zM20 544h1v1h-1zM499 544h2v1h-2zM504 544h3v1h-3zM985 544h2v1h-2zM990 544h3v1h-3zM996 544h3v1h-3zM1074 544h3v1h-3zM1284 544h3v1h-3zM24 545h3v1h-3zM492 545h3v1h-3zM498 545h1v1h-1zM840 545h3v1h-3zM846 545h3v1h-3zM852 545h3v1h-3zM858 545h3v1h-3zM864 545h3v1h-3zM870 545h3v1h-3zM876 545h3v1h-3zM882 545h3v1h-3zM888 545h3v1h-3zM972 545h3v1h-3zM978 545h3v1h-3zM984 545h1v1h-1zM1080 545h3v1h-3zM1086 545h1v1h-1zM1279 545h2v1h-2zM30 546h1v1h-1zM488 546h1v1h-1zM894 546h3v1h-3zM900 546h3v1h-3zM906 546h3v1h-3zM912 546h3v1h-3zM918 546h3v1h-3zM924 546h3v1h-3zM930 546h3v1h-3zM936 546h3v1h-3zM942 546h3v1h-3zM948 546h3v1h-3zM954 546h3v1h-3zM960 546h3v1h-3zM966 546h3v1h-3zM1087 546h2v1h-2zM1278 546h1v1h-1zM31 547h2v1h-2zM486 547h2v1h-2zM1092 547h2v1h-2zM1274 547h1v1h-1zM36 548h3v1h-3zM480 548h3v1h-3zM1094 548h1v1h-1zM1272 548h2v1h-2zM42 549h1v1h-1zM469 549h2v1h-2zM474 549h3v1h-3zM1098 549h1v1h-1zM43 550h2v1h-2zM462 550h3v1h-3zM468 550h1v1h-1zM1099 550h2v1h-2zM1266 550h3v1h-3zM48 551h3v1h-3zM446 551h1v1h-1zM450 551h3v1h-3zM456 551h3v1h-3zM1254 551h3v1h-3zM1260 551h3v1h-3zM403 552h2v1h-2zM408 552h3v1h-3zM414 552h3v1h-3zM420 552h3v1h-3zM426 552h3v1h-3zM432 552h3v1h-3zM438 552h3v1h-3zM444 552h2v1h-2zM1104 552h3v1h-3zM1248 552h3v1h-3zM54 553h3v1h-3zM384 553h3v1h-3zM390 553h3v1h-3zM396 553h3v1h-3zM402 553h1v1h-1zM1110 553h1v1h-1zM378 554h3v1h-3zM1111 554h2v1h-2zM1242 554h3v1h-3zM60 555h3v1h-3zM368 555h1v1h-1zM372 555h3v1h-3zM1116 555h3v1h-3zM1230 555h3v1h-3zM1236 555h3v1h-3zM66 556h1v1h-1zM360 556h3v1h-3zM366 556h2v1h-2zM1122 556h1v1h-1zM1224 556h3v1h-3zM67 557h2v1h-2zM354 557h3v1h-3zM1123 557h2v1h-2zM1213 557h2v1h-2zM1218 557h3v1h-3zM72 558h1v1h-1zM344 558h1v1h-1zM348 558h3v1h-3zM1128 558h3v1h-3zM1206 558h3v1h-3zM1212 558h1v1h-1zM73 559h2v1h-2zM336 559h3v1h-3zM342 559h2v1h-2zM1134 559h3v1h-3zM1200 559h3v1h-3zM330 560h3v1h-3zM1140 560h3v1h-3zM1189 560h2v1h-2zM1194 560h3v1h-3zM78 561h3v1h-3zM319 561h2v1h-2zM324 561h3v1h-3zM1146 561h3v1h-3zM1152 561h3v1h-3zM1182 561h3v1h-3zM1188 561h1v1h-1zM312 562h3v1h-3zM318 562h1v1h-1zM1158 562h3v1h-3zM1164 562h3v1h-3zM1170 562h3v1h-3zM1176 562h3v1h-3zM84 563h2v1h-2zM300 563h3v1h-3zM306 563h3v1h-3zM86 564h1v1h-1zM278 564h1v1h-1zM282 564h3v1h-3zM288 564h3v1h-3zM294 564h3v1h-3zM90 565h2v1h-2zM258 565h3v1h-3zM264 565h3v1h-3zM270 565h3v1h-3zM276 565h2v1h-2zM92 566h1v1h-1zM234 566h3v1h-3zM240 566h3v1h-3zM246 566h3v1h-3zM252 566h3v1h-3zM96 567h1v1h-1zM217 567h2v1h-2zM222 567h3v1h-3zM228 567h3v1h-3zM97 568h2v1h-2zM210 568h3v1h-3zM216 568h1v1h-1zM102 569h2v1h-2zM204 569h3v1h-3zM104 570h1v1h-1zM194 570h1v1h-1zM198 570h3v1h-3zM108 571h3v1h-3zM188 571h1v1h-1zM192 571h2v1h-2zM114 572h2v1h-2zM182 572h1v1h-1zM186 572h2v1h-2zM116 573h1v1h-1zM120 573h2v1h-2zM176 573h1v1h-1zM180 573h2v1h-2zM122 574h1v1h-1zM126 574h2v1h-2zM169 574h2v1h-2zM174 574h2v1h-2zM128 575h1v1h-1zM132 575h3v1h-3zM162 575h3v1h-3zM168 575h1v1h-1zM138 576h3v1h-3zM144 576h3v1h-3zM150 576h3v1h-3zM156 576h3v1h-3z" fill="#ff0000" shape-rendering="crispEdges"/>
<text x="9.3" y="538" font-size="12.3" fill="#000" textLength="157" lengthAdjust="spacingAndGlyphs">MACD(12,26,9) 22.61 15.81</text>
<g shape-rendering="crispEdges" fill="#000"><rect x="1658" y="524" width="2" height="1"/><rect x="1658" y="545" width="2" height="1"/><rect x="1658" y="581" width="2" height="1"/></g>
<text x="1661.5" y="536" font-size="13" fill="#000">61.86</text>
<text x="1661.5" y="550" font-size="13" fill="#000">0.00</text>
<text x="1661.5" y="579" font-size="13" fill="#000">-105.92</text>
<g shape-rendering="crispEdges">
<line x1="7" y1="623.5" x2="1657" y2="623.5" stroke="#c0c0c0" stroke-width="1" stroke-dasharray="3 3"/>
<line x1="7" y1="672.5" x2="1657" y2="672.5" stroke="#c0c0c0" stroke-width="1" stroke-dasharray="3 3"/>
</g>
<path d="M558 621h1v1h-1zM557 622h1v1h-1zM559 622h1v1h-1zM557 623h1v1h-1zM560 623h2v1h-2zM556 624h1v1h-1zM562 624h1v1h-1zM674 624h21v1h-21zM556 625h1v1h-1zM563 625h1v1h-1zM670 625h4v1h-4zM695 625h2v1h-2zM555 626h1v1h-1zM564 626h2v1h-2zM570 626h6v1h-6zM669 626h1v1h-1zM697 626h1v1h-1zM554 627h1v1h-1zM566 627h4v1h-4zM576 627h4v1h-4zM594 627h5v1h-5zM668 627h1v1h-1zM698 627h2v1h-2zM542 628h1v1h-1zM554 628h1v1h-1zM580 628h14v1h-14zM598 628h1v1h-1zM668 628h1v1h-1zM700 628h2v1h-2zM541 629h1v1h-1zM543 629h1v1h-1zM553 629h1v1h-1zM599 629h1v1h-1zM667 629h1v1h-1zM702 629h2v1h-2zM541 630h1v1h-1zM544 630h2v1h-2zM552 630h1v1h-1zM599 630h1v1h-1zM666 630h1v1h-1zM704 630h2v1h-2zM540 631h1v1h-1zM546 631h1v1h-1zM552 631h1v1h-1zM600 631h1v1h-1zM665 631h1v1h-1zM706 631h3v1h-3zM1293 631h10v1h-10zM540 632h1v1h-1zM547 632h1v1h-1zM551 632h1v1h-1zM600 632h1v1h-1zM638 632h2v1h-2zM664 632h1v1h-1zM709 632h2v1h-2zM1291 632h2v1h-2zM1303 632h1v1h-1zM453 633h2v1h-2zM539 633h1v1h-1zM548 633h2v1h-2zM551 633h1v1h-1zM601 633h1v1h-1zM637 633h1v1h-1zM640 633h4v1h-4zM664 633h1v1h-1zM711 633h2v1h-2zM1006 633h1v1h-1zM1289 633h2v1h-2zM1304 633h1v1h-1zM451 634h2v1h-2zM455 634h1v1h-1zM539 634h1v1h-1zM550 634h1v1h-1zM601 634h1v1h-1zM636 634h1v1h-1zM644 634h3v1h-3zM663 634h1v1h-1zM713 634h2v1h-2zM740 634h3v1h-3zM1005 634h1v1h-1zM1007 634h2v1h-2zM1237 634h11v1h-11zM1287 634h2v1h-2zM1305 634h1v1h-1zM449 635h2v1h-2zM456 635h2v1h-2zM538 635h1v1h-1zM602 635h1v1h-1zM634 635h2v1h-2zM647 635h2v1h-2zM661 635h2v1h-2zM715 635h2v1h-2zM736 635h4v1h-4zM742 635h1v1h-1zM1004 635h1v1h-1zM1009 635h1v1h-1zM1234 635h3v1h-3zM1248 635h4v1h-4zM1258 635h14v1h-14zM1284 635h3v1h-3zM1306 635h1v1h-1zM447 636h2v1h-2zM458 636h1v1h-1zM537 636h1v1h-1zM602 636h1v1h-1zM633 636h1v1h-1zM649 636h1v1h-1zM659 636h2v1h-2zM717 636h3v1h-3zM732 636h4v1h-4zM743 636h1v1h-1zM965 636h2v1h-2zM981 636h2v1h-2zM1002 636h2v1h-2zM1010 636h2v1h-2zM1232 636h2v1h-2zM1252 636h6v1h-6zM1272 636h4v1h-4zM1280 636h4v1h-4zM1306 636h1v1h-1zM446 637h1v1h-1zM459 637h1v1h-1zM537 637h1v1h-1zM603 637h1v1h-1zM632 637h1v1h-1zM650 637h2v1h-2zM657 637h2v1h-2zM720 637h4v1h-4zM728 637h4v1h-4zM743 637h1v1h-1zM963 637h2v1h-2zM967 637h2v1h-2zM979 637h2v1h-2zM983 637h2v1h-2zM1001 637h1v1h-1zM1012 637h2v1h-2zM1230 637h2v1h-2zM1276 637h4v1h-4zM1307 637h1v1h-1zM445 638h1v1h-1zM460 638h2v1h-2zM474 638h6v1h-6zM536 638h1v1h-1zM603 638h1v1h-1zM631 638h1v1h-1zM652 638h2v1h-2zM655 638h2v1h-2zM724 638h4v1h-4zM744 638h1v1h-1zM961 638h2v1h-2zM969 638h2v1h-2zM977 638h2v1h-2zM985 638h2v1h-2zM1000 638h1v1h-1zM1014 638h1v1h-1zM1229 638h1v1h-1zM1308 638h1v1h-1zM445 639h1v1h-1zM462 639h12v1h-12zM480 639h2v1h-2zM536 639h1v1h-1zM604 639h1v1h-1zM614 639h17v1h-17zM654 639h1v1h-1zM744 639h1v1h-1zM830 639h1v1h-1zM959 639h2v1h-2zM971 639h2v1h-2zM975 639h2v1h-2zM987 639h2v1h-2zM999 639h1v1h-1zM1015 639h2v1h-2zM1229 639h1v1h-1zM1309 639h1v1h-1zM444 640h1v1h-1zM482 640h3v1h-3zM535 640h1v1h-1zM604 640h1v1h-1zM612 640h2v1h-2zM744 640h1v1h-1zM829 640h1v1h-1zM831 640h2v1h-2zM942 640h1v1h-1zM957 640h2v1h-2zM973 640h2v1h-2zM989 640h10v1h-10zM1017 640h1v1h-1zM1228 640h1v1h-1zM1310 640h1v1h-1zM444 641h1v1h-1zM485 641h3v1h-3zM535 641h1v1h-1zM605 641h1v1h-1zM610 641h2v1h-2zM745 641h1v1h-1zM828 641h1v1h-1zM833 641h1v1h-1zM941 641h1v1h-1zM943 641h2v1h-2zM955 641h2v1h-2zM1018 641h2v1h-2zM1227 641h1v1h-1zM443 642h1v1h-1zM488 642h4v1h-4zM530 642h5v1h-5zM605 642h1v1h-1zM609 642h1v1h-1zM745 642h1v1h-1zM827 642h1v1h-1zM834 642h2v1h-2zM941 642h1v1h-1zM945 642h2v1h-2zM953 642h2v1h-2zM1020 642h2v1h-2zM1227 642h1v1h-1zM443 643h1v1h-1zM492 643h4v1h-4zM524 643h6v1h-6zM606 643h3v1h-3zM746 643h1v1h-1zM826 643h1v1h-1zM836 643h2v1h-2zM940 643h1v1h-1zM947 643h2v1h-2zM951 643h2v1h-2zM1022 643h9v1h-9zM1226 643h1v1h-1zM442 644h1v1h-1zM496 644h2v1h-2zM520 644h4v1h-4zM606 644h1v1h-1zM746 644h1v1h-1zM826 644h1v1h-1zM838 644h2v1h-2zM939 644h1v1h-1zM949 644h2v1h-2zM1031 644h1v1h-1zM1225 644h1v1h-1zM442 645h1v1h-1zM498 645h3v1h-3zM516 645h4v1h-4zM746 645h1v1h-1zM825 645h1v1h-1zM840 645h2v1h-2zM938 645h1v1h-1zM1031 645h1v1h-1zM1214 645h1v1h-1zM1225 645h1v1h-1zM441 646h1v1h-1zM501 646h5v1h-5zM512 646h4v1h-4zM747 646h1v1h-1zM814 646h2v1h-2zM824 646h1v1h-1zM842 646h3v1h-3zM860 646h3v1h-3zM894 646h4v1h-4zM938 646h1v1h-1zM1032 646h1v1h-1zM1212 646h2v1h-2zM1215 646h2v1h-2zM1224 646h1v1h-1zM441 647h1v1h-1zM506 647h6v1h-6zM747 647h1v1h-1zM813 647h1v1h-1zM816 647h4v1h-4zM823 647h1v1h-1zM845 647h5v1h-5zM856 647h4v1h-4zM863 647h2v1h-2zM893 647h1v1h-1zM898 647h8v1h-8zM937 647h1v1h-1zM1033 647h1v1h-1zM1211 647h1v1h-1zM1217 647h2v1h-2zM1223 647h1v1h-1zM302 648h2v1h-2zM440 648h1v1h-1zM748 648h1v1h-1zM812 648h1v1h-1zM820 648h3v1h-3zM850 648h6v1h-6zM865 648h2v1h-2zM893 648h1v1h-1zM906 648h5v1h-5zM936 648h1v1h-1zM1034 648h1v1h-1zM1210 648h1v1h-1zM1219 648h2v1h-2zM1223 648h1v1h-1zM301 649h1v1h-1zM304 649h2v1h-2zM430 649h2v1h-2zM440 649h1v1h-1zM748 649h1v1h-1zM811 649h1v1h-1zM867 649h2v1h-2zM892 649h1v1h-1zM911 649h1v1h-1zM935 649h1v1h-1zM1034 649h1v1h-1zM1208 649h2v1h-2zM1221 649h2v1h-2zM300 650h1v1h-1zM306 650h3v1h-3zM429 650h1v1h-1zM432 650h2v1h-2zM439 650h1v1h-1zM748 650h1v1h-1zM810 650h1v1h-1zM869 650h2v1h-2zM891 650h1v1h-1zM912 650h2v1h-2zM935 650h1v1h-1zM1035 650h1v1h-1zM1182 650h1v1h-1zM1207 650h1v1h-1zM298 651h2v1h-2zM309 651h5v1h-5zM322 651h5v1h-5zM429 651h1v1h-1zM434 651h3v1h-3zM439 651h1v1h-1zM749 651h1v1h-1zM810 651h1v1h-1zM871 651h1v1h-1zM891 651h1v1h-1zM914 651h1v1h-1zM933 651h2v1h-2zM1036 651h1v1h-1zM1181 651h1v1h-1zM1183 651h2v1h-2zM1206 651h1v1h-1zM297 652h1v1h-1zM314 652h8v1h-8zM327 652h1v1h-1zM342 652h4v1h-4zM373 652h2v1h-2zM397 652h2v1h-2zM428 652h1v1h-1zM437 652h2v1h-2zM749 652h1v1h-1zM796 652h4v1h-4zM809 652h1v1h-1zM872 652h1v1h-1zM890 652h1v1h-1zM915 652h1v1h-1zM930 652h3v1h-3zM1037 652h1v1h-1zM1180 652h1v1h-1zM1185 652h2v1h-2zM1205 652h1v1h-1zM296 653h1v1h-1zM328 653h1v1h-1zM340 653h2v1h-2zM346 653h6v1h-6zM370 653h3v1h-3zM375 653h2v1h-2zM395 653h2v1h-2zM399 653h1v1h-1zM428 653h1v1h-1zM750 653h1v1h-1zM780 653h6v1h-6zM792 653h4v1h-4zM800 653h2v1h-2zM808 653h1v1h-1zM873 653h1v1h-1zM889 653h1v1h-1zM916 653h2v1h-2zM928 653h2v1h-2zM1037 653h1v1h-1zM1042 653h5v1h-5zM1179 653h1v1h-1zM1187 653h2v1h-2zM1204 653h1v1h-1zM295 654h1v1h-1zM329 654h1v1h-1zM339 654h1v1h-1zM352 654h4v1h-4zM368 654h2v1h-2zM377 654h1v1h-1zM393 654h2v1h-2zM400 654h2v1h-2zM427 654h1v1h-1zM750 654h10v1h-10zM776 654h4v1h-4zM786 654h6v1h-6zM802 654h3v1h-3zM807 654h1v1h-1zM874 654h2v1h-2zM889 654h1v1h-1zM918 654h10v1h-10zM1038 654h4v1h-4zM1047 654h1v1h-1zM1178 654h1v1h-1zM1189 654h2v1h-2zM1203 654h1v1h-1zM166 655h2v1h-2zM180 655h3v1h-3zM222 655h1v1h-1zM294 655h1v1h-1zM330 655h2v1h-2zM338 655h1v1h-1zM356 655h12v1h-12zM378 655h2v1h-2zM391 655h2v1h-2zM402 655h1v1h-1zM427 655h1v1h-1zM760 655h2v1h-2zM772 655h4v1h-4zM805 655h2v1h-2zM876 655h1v1h-1zM888 655h1v1h-1zM1047 655h1v1h-1zM1177 655h1v1h-1zM1191 655h2v1h-2zM1202 655h1v1h-1zM164 656h2v1h-2zM168 656h4v1h-4zM176 656h4v1h-4zM183 656h1v1h-1zM221 656h1v1h-1zM223 656h2v1h-2zM293 656h1v1h-1zM332 656h1v1h-1zM336 656h2v1h-2zM380 656h2v1h-2zM386 656h5v1h-5zM403 656h1v1h-1zM426 656h1v1h-1zM762 656h3v1h-3zM768 656h4v1h-4zM877 656h1v1h-1zM887 656h1v1h-1zM1048 656h1v1h-1zM1158 656h2v1h-2zM1176 656h1v1h-1zM1193 656h1v1h-1zM1201 656h1v1h-1zM162 657h2v1h-2zM172 657h4v1h-4zM184 657h1v1h-1zM221 657h1v1h-1zM225 657h2v1h-2zM292 657h1v1h-1zM333 657h1v1h-1zM335 657h1v1h-1zM382 657h4v1h-4zM404 657h2v1h-2zM410 657h5v1h-5zM425 657h1v1h-1zM765 657h3v1h-3zM878 657h4v1h-4zM887 657h1v1h-1zM1048 657h1v1h-1zM1156 657h2v1h-2zM1160 657h2v1h-2zM1175 657h1v1h-1zM1194 657h2v1h-2zM1200 657h1v1h-1zM14 658h4v1h-4zM161 658h1v1h-1zM185 658h1v1h-1zM220 658h1v1h-1zM227 658h2v1h-2zM234 658h6v1h-6zM291 658h1v1h-1zM334 658h1v1h-1zM406 658h4v1h-4zM415 658h1v1h-1zM425 658h1v1h-1zM882 658h5v1h-5zM1049 658h1v1h-1zM1154 658h2v1h-2zM1162 658h3v1h-3zM1170 658h5v1h-5zM1196 658h2v1h-2zM1199 658h1v1h-1zM12 659h2v1h-2zM18 659h21v1h-21zM159 659h2v1h-2zM186 659h1v1h-1zM219 659h1v1h-1zM229 659h5v1h-5zM240 659h4v1h-4zM290 659h1v1h-1zM416 659h2v1h-2zM424 659h1v1h-1zM1049 659h1v1h-1zM1153 659h1v1h-1zM1165 659h5v1h-5zM1198 659h1v1h-1zM10 660h2v1h-2zM38 660h1v1h-1zM118 660h1v1h-1zM158 660h1v1h-1zM187 660h1v1h-1zM219 660h1v1h-1zM244 660h3v1h-3zM290 660h1v1h-1zM418 660h1v1h-1zM424 660h1v1h-1zM1050 660h1v1h-1zM1151 660h2v1h-2zM9 661h1v1h-1zM39 661h1v1h-1zM117 661h1v1h-1zM119 661h2v1h-2zM157 661h1v1h-1zM188 661h1v1h-1zM218 661h1v1h-1zM247 661h2v1h-2zM289 661h1v1h-1zM419 661h1v1h-1zM423 661h1v1h-1zM1051 661h1v1h-1zM1150 661h1v1h-1zM7 662h2v1h-2zM39 662h1v1h-1zM116 662h1v1h-1zM121 662h2v1h-2zM156 662h1v1h-1zM189 662h1v1h-1zM217 662h1v1h-1zM249 662h2v1h-2zM288 662h1v1h-1zM420 662h2v1h-2zM423 662h1v1h-1zM1051 662h1v1h-1zM1149 662h1v1h-1zM6 663h1v1h-1zM40 663h1v1h-1zM115 663h1v1h-1zM123 663h2v1h-2zM155 663h1v1h-1zM190 663h2v1h-2zM217 663h1v1h-1zM251 663h2v1h-2zM277 663h5v1h-5zM287 663h1v1h-1zM422 663h1v1h-1zM1052 663h1v1h-1zM1061 663h2v1h-2zM1148 663h1v1h-1zM40 664h1v1h-1zM114 664h1v1h-1zM125 664h5v1h-5zM154 664h1v1h-1zM192 664h4v1h-4zM216 664h1v1h-1zM253 664h3v1h-3zM274 664h3v1h-3zM282 664h5v1h-5zM1052 664h1v1h-1zM1059 664h2v1h-2zM1063 664h1v1h-1zM1147 664h1v1h-1zM40 665h1v1h-1zM113 665h1v1h-1zM130 665h14v1h-14zM153 665h1v1h-1zM196 665h4v1h-4zM215 665h1v1h-1zM256 665h4v1h-4zM272 665h2v1h-2zM1053 665h1v1h-1zM1057 665h2v1h-2zM1064 665h1v1h-1zM1146 665h1v1h-1zM41 666h1v1h-1zM112 666h1v1h-1zM144 666h2v1h-2zM152 666h1v1h-1zM200 666h2v1h-2zM215 666h1v1h-1zM260 666h12v1h-12zM1053 666h1v1h-1zM1055 666h2v1h-2zM1065 666h1v1h-1zM1118 666h10v1h-10zM1145 666h1v1h-1zM41 667h1v1h-1zM111 667h1v1h-1zM146 667h3v1h-3zM151 667h1v1h-1zM202 667h3v1h-3zM210 667h5v1h-5zM1054 667h1v1h-1zM1066 667h2v1h-2zM1117 667h1v1h-1zM1128 667h2v1h-2zM1144 667h1v1h-1zM41 668h1v1h-1zM110 668h1v1h-1zM149 668h2v1h-2zM205 668h5v1h-5zM1068 668h1v1h-1zM1117 668h1v1h-1zM1130 668h3v1h-3zM1143 668h1v1h-1zM42 669h1v1h-1zM109 669h1v1h-1zM1069 669h1v1h-1zM1116 669h1v1h-1zM1133 669h10v1h-10zM42 670h1v1h-1zM109 670h1v1h-1zM1070 670h2v1h-2zM1115 670h1v1h-1zM43 671h1v1h-1zM108 671h1v1h-1zM1072 671h2v1h-2zM1114 671h1v1h-1zM43 672h1v1h-1zM66 672h13v1h-13zM107 672h1v1h-1zM1074 672h3v1h-3zM1114 672h1v1h-1zM43 673h1v1h-1zM62 673h4v1h-4zM79 673h2v1h-2zM106 673h1v1h-1zM1077 673h2v1h-2zM1094 673h4v1h-4zM1113 673h1v1h-1zM44 674h1v1h-1zM61 674h1v1h-1zM81 674h2v1h-2zM106 674h1v1h-1zM1079 674h1v1h-1zM1093 674h1v1h-1zM1098 674h6v1h-6zM1112 674h1v1h-1zM44 675h1v1h-1zM60 675h1v1h-1zM83 675h2v1h-2zM105 675h1v1h-1zM1080 675h1v1h-1zM1092 675h1v1h-1zM1104 675h2v1h-2zM1111 675h1v1h-1zM44 676h1v1h-1zM59 676h1v1h-1zM85 676h2v1h-2zM104 676h1v1h-1zM1081 676h1v1h-1zM1090 676h2v1h-2zM1106 676h3v1h-3zM1111 676h1v1h-1zM45 677h1v1h-1zM58 677h1v1h-1zM87 677h2v1h-2zM103 677h1v1h-1zM1082 677h2v1h-2zM1089 677h1v1h-1zM1109 677h2v1h-2zM45 678h1v1h-1zM57 678h1v1h-1zM89 678h1v1h-1zM103 678h1v1h-1zM1084 678h1v1h-1zM1088 678h1v1h-1zM46 679h1v1h-1zM56 679h1v1h-1zM90 679h2v1h-2zM100 679h3v1h-3zM1085 679h1v1h-1zM1087 679h1v1h-1zM46 680h4v1h-4zM55 680h1v1h-1zM92 680h2v1h-2zM96 680h4v1h-4zM1086 680h1v1h-1zM50 681h5v1h-5zM94 681h2v1h-2z" fill="#1e90ff" shape-rendering="crispEdges"/>
<text x="9.6" y="600" font-size="12.3" fill="#000" textLength="91.8" lengthAdjust="spacingAndGlyphs">RSI(14) 55.1243</text>
<g shape-rendering="crispEdges" fill="#000"><rect x="1658" y="586" width="2" height="1"/><rect x="1658" y="623" width="2" height="1"/><rect x="1658" y="672" width="2" height="1"/><rect x="1658" y="709" width="2" height="1"/></g>
<text x="1661.5" y="598.6" font-size="13" fill="#000">100</text>
<text x="1661.5" y="627.6" font-size="13" fill="#000">70</text>
<text x="1661.5" y="677.1" font-size="13" fill="#000">30</text>
<text x="1661.5" y="707.1" font-size="13" fill="#000">0</text>
<g shape-rendering="crispEdges" fill="#000">
<rect x="6" y="711" width="1" height="3"/>
<rect x="102" y="711" width="1" height="3"/>
<rect x="198" y="711" width="1" height="3"/>
<rect x="294" y="711" width="1" height="3"/>
<rect x="390" y="711" width="1" height="3"/>
<rect x="486" y="711" width="1" height="3"/>
<rect x="582" y="711" width="1" height="3"/>
<rect x="678" y="711" width="1" height="3"/>
<rect x="774" y="711" width="1" height="3"/>
<rect x="870" y="711" width="1" height="3"/>
<rect x="966" y="711" width="1" height="3"/>
<rect x="1062" y="711" width="1" height="3"/>
<rect x="1158" y="711" width="1" height="3"/>
<rect x="1254" y="711" width="1" height="3"/>
</g>
<text x="4.8" y="726" font-size="12.5" fill="#000" textLength="69.4" lengthAdjust="spacingAndGlyphs">26 Apr 2019</text>
<text x="100.4" y="726" font-size="12.5" fill="#000" textLength="68.3" lengthAdjust="spacingAndGlyphs">9 May 05:00</text>
<text x="197.0" y="726" font-size="12.5" fill="#000" textLength="74.7" lengthAdjust="spacingAndGlyphs">17 May 05:00</text>
<text x="293.0" y="726" font-size="12.5" fill="#000" textLength="75.1" lengthAdjust="spacingAndGlyphs">27 May 05:00</text>
<text x="388.7" y="726" font-size="12.5" fill="#000" textLength="65.8" lengthAdjust="spacingAndGlyphs">4 Jun 05:00</text>
<text x="485.0" y="726" font-size="12.5" fill="#000" textLength="72.7" lengthAdjust="spacingAndGlyphs">13 Jun 05:00</text>
<text x="580.8" y="726" font-size="12.5" fill="#000" textLength="72.9" lengthAdjust="spacingAndGlyphs">21 Jun 05:00</text>
<text x="677.1" y="726" font-size="12.5" fill="#000" textLength="60.3" lengthAdjust="spacingAndGlyphs">1 Jul 05:00</text>
<text x="772.3" y="726" font-size="12.5" fill="#000" textLength="61.2" lengthAdjust="spacingAndGlyphs">9 Jul 05:00</text>
<text x="869.3" y="726" font-size="12.5" fill="#000" textLength="67.6" lengthAdjust="spacingAndGlyphs">17 Jul 05:00</text>
<text x="964.8" y="726" font-size="12.5" fill="#000" textLength="67.9" lengthAdjust="spacingAndGlyphs">25 Jul 05:00</text>
<text x="1061.2" y="726" font-size="12.5" fill="#000" textLength="68.4" lengthAdjust="spacingAndGlyphs">2 Aug 05:00</text>
<text x="1156.7" y="726" font-size="12.5" fill="#000" textLength="76.0" lengthAdjust="spacingAndGlyphs">12 Aug 05:00</text>
<text x="1252.8" y="726" font-size="12.5" fill="#000" textLength="75.4" lengthAdjust="spacingAndGlyphs">20 Aug 05:00</text>
</svg></body></html>
